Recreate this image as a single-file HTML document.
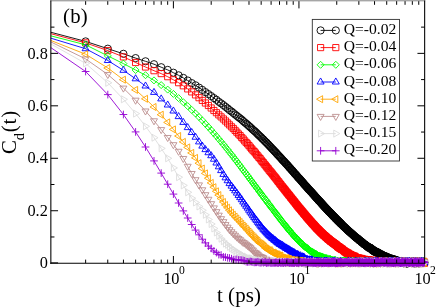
<!DOCTYPE html>
<html><head><meta charset="utf-8"><title>C_d(t)</title>
<style>
html,body{margin:0;padding:0;background:#fff;}
svg{display:block;will-change:transform;}
text{font-family:"Liberation Serif",serif;fill:#000;}
</style></head>
<body>
<svg width="436" height="308" viewBox="0 0 436 308">
<rect x="0" y="0" width="436" height="308" fill="#ffffff"/>
<defs>
<clipPath id="plotclip"><rect x="50.85" y="0" width="393.79999999999995" height="308"/></clipPath>
<marker id="m-black" markerUnits="userSpaceOnUse" markerWidth="12" markerHeight="12" viewBox="-6 -6 12 12" refX="0" refY="0" orient="0" overflow="visible"><path d="M-3.60,0a3.60,3.60 0 1,0 7.21,0a3.60,3.60 0 1,0 -7.21,0z" fill="none" stroke="#000000" stroke-width="0.9"/></marker>
<marker id="m-red" markerUnits="userSpaceOnUse" markerWidth="12" markerHeight="12" viewBox="-6 -6 12 12" refX="0" refY="0" orient="0" overflow="visible"><path d="M-3.08,-3.08h6.16v6.16h-6.16z" fill="none" stroke="#ff0000" stroke-width="0.9"/></marker>
<marker id="m-green" markerUnits="userSpaceOnUse" markerWidth="12" markerHeight="12" viewBox="-6 -6 12 12" refX="0" refY="0" orient="0" overflow="visible"><path d="M0,-3.50L3.50,0L0,3.50L-3.50,0z" fill="none" stroke="#00ff00" stroke-width="0.9"/></marker>
<marker id="m-blue" markerUnits="userSpaceOnUse" markerWidth="12" markerHeight="12" viewBox="-6 -6 12 12" refX="0" refY="0" orient="0" overflow="visible"><path d="M0,-4.04L3.50,2.02L-3.50,2.02z" fill="none" stroke="#0000ff" stroke-width="0.9"/></marker>
<marker id="m-orange" markerUnits="userSpaceOnUse" markerWidth="12" markerHeight="12" viewBox="-6 -6 12 12" refX="0" refY="0" orient="0" overflow="visible"><path d="M-4.04,0L2.02,3.50L2.02,-3.50z" fill="none" stroke="#ffa500" stroke-width="0.9"/></marker>
<marker id="m-brown" markerUnits="userSpaceOnUse" markerWidth="12" markerHeight="12" viewBox="-6 -6 12 12" refX="0" refY="0" orient="0" overflow="visible"><path d="M0,4.04L3.50,-2.02L-3.50,-2.02z" fill="none" stroke="#bc8f8f" stroke-width="0.9"/></marker>
<marker id="m-grey" markerUnits="userSpaceOnUse" markerWidth="12" markerHeight="12" viewBox="-6 -6 12 12" refX="0" refY="0" orient="0" overflow="visible"><path d="M4.04,0L-2.02,3.50L-2.02,-3.50z" fill="none" stroke="#dcdcdc" stroke-width="0.9"/></marker>
<marker id="m-violet" markerUnits="userSpaceOnUse" markerWidth="12" markerHeight="12" viewBox="-6 -6 12 12" refX="0" refY="0" orient="0" overflow="visible"><path d="M-3.85,0h7.70M0,-3.85v7.70" fill="none" stroke="#9400d3" stroke-width="0.9"/></marker>
</defs>
<g>
<polyline clip-path="url(#plotclip)" points="47.9,31.5 85.6,41.4 107.8,48.7 123.4,53.8 135.6,58.1 145.5,61.3 154.0,64.2 161.2,67.2 167.7,69.9 173.4,72.7 178.6,75.3 183.3,77.9 187.7,80.5 191.7,83.1 195.5,85.3 199.0,87.6 202.3,89.9 205.4,92.1 208.4,94.1 211.2,96.1 213.9,98.1 216.4,99.8 218.8,101.8 221.1,103.4 223.4,105.1 225.5,106.8 227.6,108.4 229.5,110.1 231.5,111.5 233.3,113.0 235.1,114.5 236.8,115.8 238.5,117.2 240.1,118.4 241.7,119.7 243.2,121.1 244.7,122.4 246.2,123.6 247.6,124.8 249.0,126.1 250.3,127.2 251.6,128.4 252.9,129.7 254.2,130.8 255.4,131.8 256.6,133.0 257.8,134.2 258.9,135.3 260.1,136.4 261.2,137.4 262.2,138.6 263.3,139.4 264.3,140.6 265.4,141.7 266.4,142.5 267.3,143.6 268.3,144.5 269.2,145.6 270.2,146.6 271.1,147.5 272.0,148.6 272.9,149.4 273.8,150.4 274.6,151.3 275.5,152.2 276.3,153.0 277.1,154.0 277.9,154.9 278.7,155.7 279.5,156.6 280.3,157.3 281.0,158.2 281.8,159.1 282.5,160.0 283.3,160.7 284.0,161.4 284.7,162.2 285.4,163.0 286.1,163.7 286.8,164.5 287.5,165.2 288.1,165.9 288.8,166.7 289.4,167.6 290.1,168.1 290.7,168.9 291.4,169.6 292.0,170.4 292.6,170.9 293.2,171.7 293.8,172.4 294.4,173.2 295.0,173.8 295.6,174.5 296.2,175.0 296.7,175.7 297.3,176.3 297.8,177.1 298.4,177.7 298.9,178.1 299.5,178.7 300.0,179.4 300.6,180.0 301.1,180.6 301.6,181.2 302.1,181.7 302.6,182.3 303.1,182.9 303.6,183.5 304.1,184.1 304.6,184.7 305.1,185.2 305.6,185.7 306.1,186.3 306.6,186.9 307.0,187.2 307.5,188.0 308.0,188.5 308.4,189.0 308.9,189.5 309.3,189.9 309.8,190.4 310.2,190.8 310.7,191.5 311.1,191.8 311.6,192.3 312.0,192.8 312.4,193.3 312.8,193.8 313.3,194.2 313.7,194.7 314.1,195.2 314.5,195.6 314.9,196.1 315.3,196.5 315.7,197.1 316.1,197.5 316.5,197.9 316.9,198.3 317.3,198.8 317.7,199.2 318.1,199.6 318.5,200.2 318.8,200.6 319.2,200.9 319.6,201.3 320.0,201.6 320.3,202.0 320.7,202.5 321.1,202.9 321.4,203.4 321.8,203.6 322.1,204.0 322.5,204.6 322.8,204.9 323.2,205.2 323.5,205.7 323.9,205.9 324.2,206.4 324.6,206.9 324.9,207.2 325.3,207.5 325.6,207.8 325.9,208.2 326.3,208.5 326.6,209.0 326.9,209.3 327.2,209.7 327.6,209.9 327.9,210.2 328.2,210.7 328.5,211.1 328.8,211.4 329.2,211.7 329.5,212.0 329.8,212.3 330.1,212.6 330.4,212.9 330.7,213.2 331.0,213.5 331.3,213.8 331.6,214.2 331.9,214.5 332.2,214.9 332.5,215.2 332.8,215.4 333.1,215.8 333.4,216.2 333.7,216.4 333.9,216.6 334.2,216.9 334.5,217.2 334.8,217.4 335.1,217.7 335.4,218.1 335.6,218.5 335.9,218.7 336.2,218.9 336.5,219.2 336.7,219.6 337.0,219.7 337.3,220.1 337.6,220.4 337.8,220.6 338.1,220.9 338.4,221.1 338.6,221.3 338.9,221.7 339.1,221.8 339.4,222.2 339.7,222.5 339.9,222.6 340.2,222.9 340.4,223.3 340.7,223.5 340.9,223.6 341.2,223.8 341.4,224.1 341.9,224.7 342.4,225.2 342.9,225.5 343.4,226.1 343.9,226.6 344.4,227.0 344.8,227.4 345.3,227.9 345.8,228.2 346.2,228.6 346.7,229.3 347.1,229.6 347.6,230.0 348.0,230.5 348.5,230.8 348.9,231.3 349.3,231.7 349.8,231.9 350.2,232.3 350.6,232.7 351.0,233.1 351.5,233.5 351.9,233.8 352.3,234.2 352.7,234.5 353.1,235.0 353.5,235.3 353.9,235.6 354.3,236.0 354.7,236.5 355.1,236.6 355.5,237.1 355.9,237.3 356.2,237.7 356.6,238.0 357.0,238.1 357.4,238.6 357.8,238.7 358.1,238.9 358.5,239.7 358.9,239.6 359.2,240.1 359.6,240.5 359.9,240.7 360.3,240.8 360.6,241.2 361.0,241.5 361.3,242.0 361.7,241.8 362.0,242.4 362.4,242.4 362.7,242.7 363.0,243.3 363.4,243.4 363.7,243.7 364.0,244.1 364.4,244.5 364.7,244.3 365.0,244.7 365.4,244.8 365.7,245.1 366.0,245.5 366.3,245.5 366.6,245.8 366.9,246.0 367.3,246.7 367.6,246.6 367.9,247.1 368.2,247.3 368.5,246.8 368.8,247.4 369.1,248.0 369.4,248.1 369.7,247.5 370.0,247.7 370.3,248.3 370.6,248.0 370.9,248.4 371.2,248.4 371.5,249.3 371.7,249.6 372.0,250.0 372.3,249.3 372.6,250.1 372.9,250.2 373.2,249.8 373.4,250.9 373.7,251.2 374.0,250.4 374.3,251.5 374.5,251.0 374.8,251.2 375.1,252.1 375.4,252.0 375.6,251.3 375.9,251.8 376.2,252.1 376.4,252.0 376.7,252.0 376.9,252.3 377.2,253.0 377.5,252.2 377.7,253.1 378.0,253.0 378.2,252.6 378.5,253.2 378.7,253.7 379.0,253.7 379.2,253.2 379.6,254.8 380.0,254.7 380.4,255.2 380.7,254.0 381.1,254.5 381.4,254.3 381.8,255.6 382.2,255.0 382.5,255.0 382.9,255.6 383.2,256.6 383.6,256.6 383.9,255.8 384.3,255.8 384.6,257.3 384.9,256.8 385.3,257.2 385.6,256.3 385.9,256.4 386.3,257.7 386.6,257.3 386.9,256.9 387.2,258.5 387.6,258.1 387.9,258.6 388.2,257.4 388.5,258.9 388.8,257.6 389.2,259.2 389.5,258.6 389.8,258.5 390.1,259.0 390.4,259.8 390.7,258.7 391.0,258.5 391.3,259.4 391.6,258.9 391.9,258.8 392.2,259.0 392.5,258.9 392.8,259.3 393.1,259.6 393.4,259.7 393.7,260.6 393.9,259.8 394.2,260.3 394.5,259.8 394.8,260.2 395.1,259.6 395.4,260.1 395.6,259.8 395.9,261.2 396.2,261.0 396.5,260.3 396.7,260.9 397.0,261.9 397.3,260.3 397.5,261.8 397.8,261.1 398.1,261.3 398.3,262.1 398.6,261.2 398.9,261.5 399.1,261.9 399.4,262.6 399.7,261.3 399.9,262.4 400.2,262.2 400.4,262.1 400.7,261.7 400.9,261.6 401.2,261.0 401.4,261.2 401.8,261.2 402.1,262.6 402.4,261.7 402.7,261.5 403.1,261.4 403.4,263.0 403.7,263.1 404.0,262.7 404.3,261.9 404.7,261.9 405.0,262.0 405.3,262.3 405.6,261.7 405.9,262.3 406.2,261.9 406.5,263.4 406.8,263.4 407.1,262.5 407.4,261.9 407.7,263.4 408.0,262.0 408.3,262.1 408.6,261.4 408.9,262.2 409.2,262.3 409.5,262.4 409.8,261.8 410.0,262.4 410.3,261.4 410.6,261.9 410.9,261.6 411.2,262.2 411.4,261.5 411.7,261.4 412.0,262.0 412.3,261.8 412.5,262.6 412.8,262.5 413.1,262.9 413.3,262.7 413.6,262.8 413.9,263.2 414.1,262.2 414.4,262.0 414.7,263.4 414.9,261.7 415.2,262.9 415.4,262.7 415.7,261.5 416.0,263.1 416.2,263.2 416.5,262.7 416.7,262.9 417.0,263.0 417.3,261.7 417.6,262.4 417.9,262.4 418.2,263.1 418.5,263.0 418.8,263.1 419.1,262.6 419.4,263.2 419.7,262.8 420.0,262.8 420.3,261.8 420.6,261.4 420.9,261.6 421.2,262.1 421.5,261.6 421.8,263.1 422.0,262.5 422.3,262.7 422.6,262.7 422.9,262.8 423.2,262.4 423.5,261.4 423.7,263.0 424.0,262.9 424.3,262.4 424.5,262.5" fill="none" stroke="#000000" stroke-width="0.9" stroke-linejoin="round"/>
<polyline points="85.6,41.4 107.8,48.7 123.4,53.8 135.6,58.1 145.5,61.3 154.0,64.2 161.2,67.2 167.7,69.9 173.4,72.7 178.6,75.3 183.3,77.9 187.7,80.5 191.7,83.1 195.5,85.3 199.0,87.6 202.3,89.9 205.4,92.1 208.4,94.1 211.2,96.1 213.9,98.1 216.4,99.8 218.8,101.8 221.1,103.4 223.4,105.1 225.5,106.8 227.6,108.4 229.5,110.1 231.5,111.5 233.3,113.0 235.1,114.5 236.8,115.8 238.5,117.2 240.1,118.4 241.7,119.7 243.2,121.1 244.7,122.4 246.2,123.6 247.6,124.8 249.0,126.1 250.3,127.2 251.6,128.4 252.9,129.7 254.2,130.8 255.4,131.8 256.6,133.0 257.8,134.2 258.9,135.3 260.1,136.4 261.2,137.4 262.2,138.6 263.3,139.4 264.3,140.6 265.4,141.7 266.4,142.5 267.3,143.6 268.3,144.5 269.2,145.6 270.2,146.6 271.1,147.5 272.0,148.6 272.9,149.4 273.8,150.4 274.6,151.3 275.5,152.2 276.3,153.0 277.1,154.0 277.9,154.9 278.7,155.7 279.5,156.6 280.3,157.3 281.0,158.2 281.8,159.1 282.5,160.0 283.3,160.7 284.0,161.4 284.7,162.2 285.4,163.0 286.1,163.7 286.8,164.5 287.5,165.2 288.1,165.9 288.8,166.7 289.4,167.6 290.1,168.1 290.7,168.9 291.4,169.6 292.0,170.4 292.6,170.9 293.2,171.7 293.8,172.4 294.4,173.2 295.0,173.8 295.6,174.5 296.2,175.0 296.7,175.7 297.3,176.3 297.8,177.1 298.4,177.7 298.9,178.1 299.5,178.7 300.0,179.4 300.6,180.0 301.1,180.6 301.6,181.2 302.1,181.7 302.6,182.3 303.1,182.9 303.6,183.5 304.1,184.1 304.6,184.7 305.1,185.2 305.6,185.7 306.1,186.3 306.6,186.9 307.0,187.2 307.5,188.0 308.0,188.5 308.4,189.0 308.9,189.5 309.3,189.9 309.8,190.4 310.2,190.8 310.7,191.5 311.1,191.8 311.6,192.3 312.0,192.8 312.4,193.3 312.8,193.8 313.3,194.2 313.7,194.7 314.1,195.2 314.5,195.6 314.9,196.1 315.3,196.5 315.7,197.1 316.1,197.5 316.5,197.9 316.9,198.3 317.3,198.8 317.7,199.2 318.1,199.6 318.5,200.2 318.8,200.6 319.2,200.9 319.6,201.3 320.0,201.6 320.3,202.0 320.7,202.5 321.1,202.9 321.4,203.4 321.8,203.6 322.1,204.0 322.5,204.6 322.8,204.9 323.2,205.2 323.5,205.7 323.9,205.9 324.2,206.4 324.6,206.9 324.9,207.2 325.3,207.5 325.6,207.8 325.9,208.2 326.3,208.5 326.6,209.0 326.9,209.3 327.2,209.7 327.6,209.9 327.9,210.2 328.2,210.7 328.5,211.1 328.8,211.4 329.2,211.7 329.5,212.0 329.8,212.3 330.1,212.6 330.4,212.9 330.7,213.2 331.0,213.5 331.3,213.8 331.6,214.2 331.9,214.5 332.2,214.9 332.5,215.2 332.8,215.4 333.1,215.8 333.4,216.2 333.7,216.4 333.9,216.6 334.2,216.9 334.5,217.2 334.8,217.4 335.1,217.7 335.4,218.1 335.6,218.5 335.9,218.7 336.2,218.9 336.5,219.2 336.7,219.6 337.0,219.7 337.3,220.1 337.6,220.4 337.8,220.6 338.1,220.9 338.4,221.1 338.6,221.3 338.9,221.7 339.1,221.8 339.4,222.2 339.7,222.5 339.9,222.6 340.2,222.9 340.4,223.3 340.7,223.5 340.9,223.6 341.2,223.8 341.4,224.1 341.9,224.7 342.4,225.2 342.9,225.5 343.4,226.1 343.9,226.6 344.4,227.0 344.8,227.4 345.3,227.9 345.8,228.2 346.2,228.6 346.7,229.3 347.1,229.6 347.6,230.0 348.0,230.5 348.5,230.8 348.9,231.3 349.3,231.7 349.8,231.9 350.2,232.3 350.6,232.7 351.0,233.1 351.5,233.5 351.9,233.8 352.3,234.2 352.7,234.5 353.1,235.0 353.5,235.3 353.9,235.6 354.3,236.0 354.7,236.5 355.1,236.6 355.5,237.1 355.9,237.3 356.2,237.7 356.6,238.0 357.0,238.1 357.4,238.6 357.8,238.7 358.1,238.9 358.5,239.7 358.9,239.6 359.2,240.1 359.6,240.5 359.9,240.7 360.3,240.8 360.6,241.2 361.0,241.5 361.3,242.0 361.7,241.8 362.0,242.4 362.4,242.4 362.7,242.7 363.0,243.3 363.4,243.4 363.7,243.7 364.0,244.1 364.4,244.5 364.7,244.3 365.0,244.7 365.4,244.8 365.7,245.1 366.0,245.5 366.3,245.5 366.6,245.8 366.9,246.0 367.3,246.7 367.6,246.6 367.9,247.1 368.2,247.3 368.5,246.8 368.8,247.4 369.1,248.0 369.4,248.1 369.7,247.5 370.0,247.7 370.3,248.3 370.6,248.0 370.9,248.4 371.2,248.4 371.5,249.3 371.7,249.6 372.0,250.0 372.3,249.3 372.6,250.1 372.9,250.2 373.2,249.8 373.4,250.9 373.7,251.2 374.0,250.4 374.3,251.5 374.5,251.0 374.8,251.2 375.1,252.1 375.4,252.0 375.6,251.3 375.9,251.8 376.2,252.1 376.4,252.0 376.7,252.0 376.9,252.3 377.2,253.0 377.5,252.2 377.7,253.1 378.0,253.0 378.2,252.6 378.5,253.2 378.7,253.7 379.0,253.7 379.2,253.2 379.6,254.8 380.0,254.7 380.4,255.2 380.7,254.0 381.1,254.5 381.4,254.3 381.8,255.6 382.2,255.0 382.5,255.0 382.9,255.6 383.2,256.6 383.6,256.6 383.9,255.8 384.3,255.8 384.6,257.3 384.9,256.8 385.3,257.2 385.6,256.3 385.9,256.4 386.3,257.7 386.6,257.3 386.9,256.9 387.2,258.5 387.6,258.1 387.9,258.6 388.2,257.4 388.5,258.9 388.8,257.6 389.2,259.2 389.5,258.6 389.8,258.5 390.1,259.0 390.4,259.8 390.7,258.7 391.0,258.5 391.3,259.4 391.6,258.9 391.9,258.8 392.2,259.0 392.5,258.9 392.8,259.3 393.1,259.6 393.4,259.7 393.7,260.6 393.9,259.8 394.2,260.3 394.5,259.8 394.8,260.2 395.1,259.6 395.4,260.1 395.6,259.8 395.9,261.2 396.2,261.0 396.5,260.3 396.7,260.9 397.0,261.9 397.3,260.3 397.5,261.8 397.8,261.1 398.1,261.3 398.3,262.1 398.6,261.2 398.9,261.5 399.1,261.9 399.4,262.6 399.7,261.3 399.9,262.4 400.2,262.2 400.4,262.1 400.7,261.7 400.9,261.6 401.2,261.0 401.4,261.2 401.8,261.2 402.1,262.6 402.4,261.7 402.7,261.5 403.1,261.4 403.4,263.0 403.7,263.1 404.0,262.7 404.3,261.9 404.7,261.9 405.0,262.0 405.3,262.3 405.6,261.7 405.9,262.3 406.2,261.9 406.5,263.4 406.8,263.4 407.1,262.5 407.4,261.9 407.7,263.4 408.0,262.0 408.3,262.1 408.6,261.4 408.9,262.2 409.2,262.3 409.5,262.4 409.8,261.8 410.0,262.4 410.3,261.4 410.6,261.9 410.9,261.6 411.2,262.2 411.4,261.5 411.7,261.4 412.0,262.0 412.3,261.8 412.5,262.6 412.8,262.5 413.1,262.9 413.3,262.7 413.6,262.8 413.9,263.2 414.1,262.2 414.4,262.0 414.7,263.4 414.9,261.7 415.2,262.9 415.4,262.7 415.7,261.5 416.0,263.1 416.2,263.2 416.5,262.7 416.7,262.9 417.0,263.0 417.3,261.7 417.6,262.4 417.9,262.4 418.2,263.1 418.5,263.0 418.8,263.1 419.1,262.6 419.4,263.2 419.7,262.8 420.0,262.8 420.3,261.8 420.6,261.4 420.9,261.6 421.2,262.1 421.5,261.6 421.8,263.1 422.0,262.5 422.3,262.7 422.6,262.7 422.9,262.8 423.2,262.4 423.5,261.4 423.7,263.0 424.0,262.9 424.3,262.4 424.5,262.5" fill="none" stroke="none" marker-start="url(#m-black)" marker-mid="url(#m-black)" marker-end="url(#m-black)"/>
</g>
<g>
<polyline clip-path="url(#plotclip)" points="47.9,32.9 85.6,42.9 107.8,50.6 123.4,56.9 135.6,62.5 145.5,67.0 154.0,70.7 161.2,73.6 167.7,76.7 173.4,79.8 178.6,82.7 183.3,85.8 187.7,88.9 191.7,91.9 195.5,94.9 199.0,97.7 202.3,100.4 205.4,103.0 208.4,105.5 211.2,108.0 213.9,110.5 216.4,112.7 218.8,114.9 221.1,116.9 223.4,119.0 225.5,121.0 227.6,123.0 229.5,124.9 231.5,126.8 233.3,128.5 235.1,130.4 236.8,132.2 238.5,134.0 240.1,135.6 241.7,137.5 243.2,139.0 244.7,140.9 246.2,142.5 247.6,143.9 249.0,145.6 250.3,147.2 251.6,148.8 252.9,150.2 254.2,151.6 255.4,153.0 256.6,154.7 257.8,155.9 258.9,157.4 260.1,158.6 261.2,160.1 262.2,161.5 263.3,162.6 264.3,164.1 265.4,165.2 266.4,166.6 267.3,167.8 268.3,168.8 269.2,170.2 270.2,171.3 271.1,172.3 272.0,173.4 272.9,174.7 273.8,175.8 274.6,176.8 275.5,177.8 276.3,178.9 277.1,180.0 277.9,181.1 278.7,181.9 279.5,183.1 280.3,184.1 281.0,184.9 281.8,186.1 282.5,186.9 283.3,187.9 284.0,188.7 284.7,189.6 285.4,190.5 286.1,191.5 286.8,192.3 287.5,193.1 288.1,194.0 288.8,194.8 289.4,195.5 290.1,196.3 290.7,197.3 291.4,198.0 292.0,198.9 292.6,199.5 293.2,200.3 293.8,201.1 294.4,201.8 295.0,202.5 295.6,203.4 296.2,204.1 296.7,204.8 297.3,205.5 297.8,206.2 298.4,206.9 298.9,207.5 299.5,208.2 300.0,208.7 300.6,209.5 301.1,210.1 301.6,210.8 302.1,211.4 302.6,211.9 303.1,212.5 303.6,213.3 304.1,213.7 304.6,214.4 305.1,214.9 305.6,215.5 306.1,216.2 306.6,216.8 307.0,217.2 307.5,217.8 308.0,218.3 308.4,218.9 308.9,219.4 309.3,219.8 309.8,220.4 310.2,220.9 310.7,221.5 311.1,221.9 311.6,222.4 312.0,223.0 312.4,223.5 312.8,223.9 313.3,224.3 313.7,224.7 314.1,225.2 314.5,225.7 314.9,226.1 315.3,226.5 315.7,227.0 316.1,227.5 316.5,228.0 316.9,228.3 317.3,228.7 317.7,229.1 318.1,229.5 318.5,229.9 318.8,230.2 319.2,230.5 319.6,231.0 320.0,231.5 320.3,231.7 320.7,232.1 321.1,232.5 321.4,232.9 321.8,233.1 322.1,233.4 322.5,233.8 322.8,234.1 323.2,234.5 323.5,234.9 323.9,235.2 324.2,235.5 324.6,235.6 324.9,235.9 325.3,236.4 325.6,236.8 325.9,236.9 326.3,237.3 326.6,237.3 326.9,237.7 327.2,238.2 327.6,238.5 327.9,238.8 328.2,239.1 328.5,239.0 328.8,239.2 329.2,239.5 329.5,239.9 329.8,240.3 330.1,240.7 330.4,240.8 330.7,241.0 331.0,241.3 331.3,241.4 331.6,241.7 331.9,241.5 332.2,242.3 332.5,242.1 332.8,242.9 333.1,242.9 333.4,242.9 333.7,242.9 333.9,243.2 334.2,243.8 334.5,244.0 334.8,243.8 335.1,243.9 335.4,244.5 335.6,244.8 335.9,244.8 336.2,244.9 336.5,245.5 336.7,245.1 337.0,245.6 337.3,245.9 337.6,246.6 337.8,246.5 338.1,247.0 338.4,246.7 338.6,246.7 338.9,246.9 339.1,247.8 339.4,247.8 339.7,247.5 339.9,247.4 340.2,248.1 340.4,248.5 340.7,248.4 340.9,248.4 341.2,249.0 341.4,249.5 341.9,249.0 342.4,249.1 342.9,249.9 343.4,250.3 343.9,251.0 344.4,250.7 344.8,251.8 345.3,252.0 345.8,252.0 346.2,251.9 346.7,253.2 347.1,252.6 347.6,253.6 348.0,253.0 348.5,253.3 348.9,254.4 349.3,253.9 349.8,255.2 350.2,254.7 350.6,254.5 351.0,254.8 351.5,255.3 351.9,255.9 352.3,256.6 352.7,255.5 353.1,256.1 353.5,256.0 353.9,257.5 354.3,256.3 354.7,256.3 355.1,256.5 355.5,257.2 355.9,258.2 356.2,258.4 356.6,258.3 357.0,258.9 357.4,258.9 357.8,258.0 358.1,257.9 358.5,259.3 358.9,259.1 359.2,257.9 359.6,259.2 359.9,258.8 360.3,258.9 360.6,258.9 361.0,258.7 361.3,258.4 361.7,259.0 362.0,259.3 362.4,260.5 362.7,259.0 363.0,260.6 363.4,259.3 363.7,259.6 364.0,260.6 364.4,260.6 364.7,260.0 365.0,259.3 365.4,260.1 365.7,260.0 366.0,261.1 366.3,259.8 366.6,260.1 366.9,261.2 367.3,259.6 367.6,260.4 367.9,261.2 368.2,261.1 368.5,259.8 368.8,259.8 369.1,259.9 369.4,261.6 369.7,260.3 370.0,261.3 370.3,261.7 370.6,260.6 370.9,260.5 371.2,261.9 371.5,261.3 371.7,260.6 372.0,261.5 372.3,260.8 372.6,260.7 372.9,260.2 373.2,261.7 373.4,262.1 373.7,261.5 374.0,262.2 374.3,260.4 374.5,260.8 374.8,261.3 375.1,262.3 375.4,262.3 375.6,261.2 375.9,261.0 376.2,261.3 376.4,261.5 376.7,262.4 376.9,260.9 377.2,262.2 377.5,262.1 377.7,262.2 378.0,262.2 378.2,261.8 378.5,261.3 378.7,261.3 379.0,261.4 379.2,262.3 379.6,260.9 380.0,261.1 380.4,262.3 380.7,261.3 381.1,260.9 381.4,260.9 381.8,261.9 382.2,261.5 382.5,262.8 382.9,262.7 383.2,262.9 383.6,261.4 383.9,261.1 384.3,261.1 384.6,261.9 384.9,262.4 385.3,261.9 385.6,261.4 385.9,261.8 386.3,262.2 386.6,262.4 386.9,262.5 387.2,262.7 387.6,262.4 387.9,261.3 388.2,262.7 388.5,261.6 388.8,262.2 389.2,261.8 389.5,262.5 389.8,261.4 390.1,261.6 390.4,261.6 390.7,261.4 391.0,262.9 391.3,262.2 391.6,261.7 391.9,261.9 392.2,263.1 392.5,262.1 392.8,261.5 393.1,262.7 393.4,262.4 393.7,263.1 393.9,261.3 394.2,262.0 394.5,262.8 394.8,262.8 395.1,263.0 395.4,261.2 395.6,261.7 395.9,261.3 396.2,261.5 396.5,263.1 396.7,262.3 397.0,263.0 397.3,261.8 397.5,262.9 397.8,262.0 398.1,261.6 398.3,262.7 398.6,263.0 398.9,261.3 399.1,262.3 399.4,262.3 399.7,261.5 399.9,261.8 400.2,261.4 400.4,261.5 400.7,261.6 400.9,262.3 401.2,262.4 401.4,261.5 401.8,261.1 402.1,261.7 402.4,262.5 402.7,261.5 403.1,261.7 403.4,261.5 403.7,262.7 404.0,262.2 404.3,261.2 404.7,261.3 405.0,261.9 405.3,262.2 405.6,262.4 405.9,261.3 406.2,261.4 406.5,262.5 406.8,261.9 407.1,261.7 407.4,261.7 407.7,263.0 408.0,261.7 408.3,262.2 408.6,261.8 408.9,261.9 409.2,262.8 409.5,263.1 409.8,261.8 410.0,261.5 410.3,262.6 410.6,261.5 410.9,261.1 411.2,262.9 411.4,261.9 411.7,262.8 412.0,261.9 412.3,262.9 412.5,262.0 412.8,261.4 413.1,261.1 413.3,262.2 413.6,262.4 413.9,262.9 414.1,261.3 414.4,262.4 414.7,261.8 414.9,262.1 415.2,261.4 415.4,261.7 415.7,262.1 416.0,263.0 416.2,261.3 416.5,262.1 416.7,262.7 417.0,263.1 417.3,261.5 417.6,261.4 417.9,263.0 418.2,263.1 418.5,262.1 418.8,261.2 419.1,263.0 419.4,261.9 419.7,263.0 420.0,262.4 420.3,262.9 420.6,261.5 420.9,262.8 421.2,261.6 421.5,262.0 421.8,263.0 422.0,262.9 422.3,261.6 422.6,261.7 422.9,262.1 423.2,262.3 423.5,262.1 423.7,261.5 424.0,261.8 424.3,262.8 424.5,263.2" fill="none" stroke="#ff0000" stroke-width="0.9" stroke-linejoin="round"/>
<polyline points="85.6,42.9 107.8,50.6 123.4,56.9 135.6,62.5 145.5,67.0 154.0,70.7 161.2,73.6 167.7,76.7 173.4,79.8 178.6,82.7 183.3,85.8 187.7,88.9 191.7,91.9 195.5,94.9 199.0,97.7 202.3,100.4 205.4,103.0 208.4,105.5 211.2,108.0 213.9,110.5 216.4,112.7 218.8,114.9 221.1,116.9 223.4,119.0 225.5,121.0 227.6,123.0 229.5,124.9 231.5,126.8 233.3,128.5 235.1,130.4 236.8,132.2 238.5,134.0 240.1,135.6 241.7,137.5 243.2,139.0 244.7,140.9 246.2,142.5 247.6,143.9 249.0,145.6 250.3,147.2 251.6,148.8 252.9,150.2 254.2,151.6 255.4,153.0 256.6,154.7 257.8,155.9 258.9,157.4 260.1,158.6 261.2,160.1 262.2,161.5 263.3,162.6 264.3,164.1 265.4,165.2 266.4,166.6 267.3,167.8 268.3,168.8 269.2,170.2 270.2,171.3 271.1,172.3 272.0,173.4 272.9,174.7 273.8,175.8 274.6,176.8 275.5,177.8 276.3,178.9 277.1,180.0 277.9,181.1 278.7,181.9 279.5,183.1 280.3,184.1 281.0,184.9 281.8,186.1 282.5,186.9 283.3,187.9 284.0,188.7 284.7,189.6 285.4,190.5 286.1,191.5 286.8,192.3 287.5,193.1 288.1,194.0 288.8,194.8 289.4,195.5 290.1,196.3 290.7,197.3 291.4,198.0 292.0,198.9 292.6,199.5 293.2,200.3 293.8,201.1 294.4,201.8 295.0,202.5 295.6,203.4 296.2,204.1 296.7,204.8 297.3,205.5 297.8,206.2 298.4,206.9 298.9,207.5 299.5,208.2 300.0,208.7 300.6,209.5 301.1,210.1 301.6,210.8 302.1,211.4 302.6,211.9 303.1,212.5 303.6,213.3 304.1,213.7 304.6,214.4 305.1,214.9 305.6,215.5 306.1,216.2 306.6,216.8 307.0,217.2 307.5,217.8 308.0,218.3 308.4,218.9 308.9,219.4 309.3,219.8 309.8,220.4 310.2,220.9 310.7,221.5 311.1,221.9 311.6,222.4 312.0,223.0 312.4,223.5 312.8,223.9 313.3,224.3 313.7,224.7 314.1,225.2 314.5,225.7 314.9,226.1 315.3,226.5 315.7,227.0 316.1,227.5 316.5,228.0 316.9,228.3 317.3,228.7 317.7,229.1 318.1,229.5 318.5,229.9 318.8,230.2 319.2,230.5 319.6,231.0 320.0,231.5 320.3,231.7 320.7,232.1 321.1,232.5 321.4,232.9 321.8,233.1 322.1,233.4 322.5,233.8 322.8,234.1 323.2,234.5 323.5,234.9 323.9,235.2 324.2,235.5 324.6,235.6 324.9,235.9 325.3,236.4 325.6,236.8 325.9,236.9 326.3,237.3 326.6,237.3 326.9,237.7 327.2,238.2 327.6,238.5 327.9,238.8 328.2,239.1 328.5,239.0 328.8,239.2 329.2,239.5 329.5,239.9 329.8,240.3 330.1,240.7 330.4,240.8 330.7,241.0 331.0,241.3 331.3,241.4 331.6,241.7 331.9,241.5 332.2,242.3 332.5,242.1 332.8,242.9 333.1,242.9 333.4,242.9 333.7,242.9 333.9,243.2 334.2,243.8 334.5,244.0 334.8,243.8 335.1,243.9 335.4,244.5 335.6,244.8 335.9,244.8 336.2,244.9 336.5,245.5 336.7,245.1 337.0,245.6 337.3,245.9 337.6,246.6 337.8,246.5 338.1,247.0 338.4,246.7 338.6,246.7 338.9,246.9 339.1,247.8 339.4,247.8 339.7,247.5 339.9,247.4 340.2,248.1 340.4,248.5 340.7,248.4 340.9,248.4 341.2,249.0 341.4,249.5 341.9,249.0 342.4,249.1 342.9,249.9 343.4,250.3 343.9,251.0 344.4,250.7 344.8,251.8 345.3,252.0 345.8,252.0 346.2,251.9 346.7,253.2 347.1,252.6 347.6,253.6 348.0,253.0 348.5,253.3 348.9,254.4 349.3,253.9 349.8,255.2 350.2,254.7 350.6,254.5 351.0,254.8 351.5,255.3 351.9,255.9 352.3,256.6 352.7,255.5 353.1,256.1 353.5,256.0 353.9,257.5 354.3,256.3 354.7,256.3 355.1,256.5 355.5,257.2 355.9,258.2 356.2,258.4 356.6,258.3 357.0,258.9 357.4,258.9 357.8,258.0 358.1,257.9 358.5,259.3 358.9,259.1 359.2,257.9 359.6,259.2 359.9,258.8 360.3,258.9 360.6,258.9 361.0,258.7 361.3,258.4 361.7,259.0 362.0,259.3 362.4,260.5 362.7,259.0 363.0,260.6 363.4,259.3 363.7,259.6 364.0,260.6 364.4,260.6 364.7,260.0 365.0,259.3 365.4,260.1 365.7,260.0 366.0,261.1 366.3,259.8 366.6,260.1 366.9,261.2 367.3,259.6 367.6,260.4 367.9,261.2 368.2,261.1 368.5,259.8 368.8,259.8 369.1,259.9 369.4,261.6 369.7,260.3 370.0,261.3 370.3,261.7 370.6,260.6 370.9,260.5 371.2,261.9 371.5,261.3 371.7,260.6 372.0,261.5 372.3,260.8 372.6,260.7 372.9,260.2 373.2,261.7 373.4,262.1 373.7,261.5 374.0,262.2 374.3,260.4 374.5,260.8 374.8,261.3 375.1,262.3 375.4,262.3 375.6,261.2 375.9,261.0 376.2,261.3 376.4,261.5 376.7,262.4 376.9,260.9 377.2,262.2 377.5,262.1 377.7,262.2 378.0,262.2 378.2,261.8 378.5,261.3 378.7,261.3 379.0,261.4 379.2,262.3 379.6,260.9 380.0,261.1 380.4,262.3 380.7,261.3 381.1,260.9 381.4,260.9 381.8,261.9 382.2,261.5 382.5,262.8 382.9,262.7 383.2,262.9 383.6,261.4 383.9,261.1 384.3,261.1 384.6,261.9 384.9,262.4 385.3,261.9 385.6,261.4 385.9,261.8 386.3,262.2 386.6,262.4 386.9,262.5 387.2,262.7 387.6,262.4 387.9,261.3 388.2,262.7 388.5,261.6 388.8,262.2 389.2,261.8 389.5,262.5 389.8,261.4 390.1,261.6 390.4,261.6 390.7,261.4 391.0,262.9 391.3,262.2 391.6,261.7 391.9,261.9 392.2,263.1 392.5,262.1 392.8,261.5 393.1,262.7 393.4,262.4 393.7,263.1 393.9,261.3 394.2,262.0 394.5,262.8 394.8,262.8 395.1,263.0 395.4,261.2 395.6,261.7 395.9,261.3 396.2,261.5 396.5,263.1 396.7,262.3 397.0,263.0 397.3,261.8 397.5,262.9 397.8,262.0 398.1,261.6 398.3,262.7 398.6,263.0 398.9,261.3 399.1,262.3 399.4,262.3 399.7,261.5 399.9,261.8 400.2,261.4 400.4,261.5 400.7,261.6 400.9,262.3 401.2,262.4 401.4,261.5 401.8,261.1 402.1,261.7 402.4,262.5 402.7,261.5 403.1,261.7 403.4,261.5 403.7,262.7 404.0,262.2 404.3,261.2 404.7,261.3 405.0,261.9 405.3,262.2 405.6,262.4 405.9,261.3 406.2,261.4 406.5,262.5 406.8,261.9 407.1,261.7 407.4,261.7 407.7,263.0 408.0,261.7 408.3,262.2 408.6,261.8 408.9,261.9 409.2,262.8 409.5,263.1 409.8,261.8 410.0,261.5 410.3,262.6 410.6,261.5 410.9,261.1 411.2,262.9 411.4,261.9 411.7,262.8 412.0,261.9 412.3,262.9 412.5,262.0 412.8,261.4 413.1,261.1 413.3,262.2 413.6,262.4 413.9,262.9 414.1,261.3 414.4,262.4 414.7,261.8 414.9,262.1 415.2,261.4 415.4,261.7 415.7,262.1 416.0,263.0 416.2,261.3 416.5,262.1 416.7,262.7 417.0,263.1 417.3,261.5 417.6,261.4 417.9,263.0 418.2,263.1 418.5,262.1 418.8,261.2 419.1,263.0 419.4,261.9 419.7,263.0 420.0,262.4 420.3,262.9 420.6,261.5 420.9,262.8 421.2,261.6 421.5,262.0 421.8,263.0 422.0,262.9 422.3,261.6 422.6,261.7 422.9,262.1 423.2,262.3 423.5,262.1 423.7,261.5 424.0,261.8 424.3,262.8 424.5,263.2" fill="none" stroke="none" marker-start="url(#m-red)" marker-mid="url(#m-red)" marker-end="url(#m-red)"/>
</g>
<g>
<polyline clip-path="url(#plotclip)" points="47.9,35.1 85.6,44.8 107.8,55.9 123.4,63.6 135.6,70.0 145.5,75.2 154.0,80.4 161.2,85.1 167.7,89.6 173.4,93.9 178.6,98.1 183.3,102.2 187.7,106.1 191.7,109.9 195.5,113.5 199.0,117.0 202.3,120.4 205.4,123.8 208.4,127.0 211.2,130.1 213.9,133.3 216.4,136.2 218.8,139.0 221.1,141.7 223.4,144.5 225.5,147.1 227.6,149.6 229.5,152.2 231.5,154.6 233.3,157.0 235.1,159.3 236.8,161.4 238.5,163.8 240.1,165.8 241.7,168.0 243.2,170.0 244.7,171.9 246.2,173.8 247.6,175.7 249.0,177.6 250.3,179.5 251.6,181.1 252.9,182.9 254.2,184.7 255.4,186.2 256.6,187.9 257.8,189.3 258.9,191.0 260.1,192.4 261.2,194.0 262.2,195.4 263.3,196.7 264.3,198.2 265.4,199.6 266.4,200.7 267.3,202.1 268.3,203.5 269.2,204.6 270.2,206.0 271.1,207.1 272.0,208.4 272.9,209.4 273.8,210.6 274.6,211.9 275.5,212.8 276.3,213.9 277.1,215.1 277.9,216.1 278.7,217.0 279.5,218.1 280.3,219.1 281.0,220.2 281.8,221.1 282.5,222.1 283.3,222.9 284.0,223.9 284.7,224.7 285.4,225.6 286.1,226.5 286.8,227.3 287.5,228.2 288.1,229.0 288.8,229.8 289.4,230.6 290.1,231.2 290.7,232.1 291.4,232.8 292.0,233.5 292.6,234.3 293.2,234.8 293.8,235.7 294.4,236.2 295.0,236.8 295.6,237.6 296.2,238.1 296.7,238.6 297.3,239.4 297.8,239.6 298.4,240.7 298.9,240.9 299.5,241.7 300.0,242.5 300.6,242.7 301.1,243.3 301.6,243.5 302.1,243.7 302.6,244.2 303.1,244.8 303.6,245.7 304.1,245.9 304.6,246.4 305.1,247.3 305.6,246.9 306.1,247.4 306.6,248.2 307.0,247.9 307.5,248.3 308.0,249.0 308.4,249.1 308.9,249.7 309.3,249.9 309.8,250.7 310.2,251.0 310.7,250.8 311.1,251.7 311.6,251.8 312.0,251.6 312.4,253.0 312.8,252.3 313.3,252.4 313.7,252.6 314.1,253.7 314.5,254.3 314.9,254.4 315.3,254.0 315.7,254.0 316.1,253.9 316.5,255.1 316.9,255.1 317.3,255.0 317.7,255.7 318.1,255.6 318.5,256.5 318.8,256.4 319.2,255.8 319.6,257.0 320.0,255.8 320.3,256.8 320.7,256.7 321.1,256.6 321.4,256.4 321.8,257.8 322.1,256.6 322.5,257.7 322.8,258.5 323.2,257.2 323.5,257.4 323.9,258.3 324.2,258.2 324.6,258.6 324.9,259.0 325.3,258.0 325.6,258.3 325.9,258.4 326.3,258.0 326.6,259.7 326.9,259.6 327.2,259.6 327.6,258.3 327.9,260.0 328.2,259.9 328.5,259.4 328.8,260.0 329.2,259.6 329.5,259.2 329.8,259.0 330.1,259.4 330.4,259.1 330.7,259.7 331.0,260.5 331.3,260.5 331.6,260.8 331.9,260.7 332.2,259.8 332.5,260.5 332.8,260.3 333.1,261.0 333.4,260.6 333.7,260.1 333.9,260.9 334.2,261.6 334.5,260.1 334.8,261.5 335.1,259.8 335.4,260.3 335.6,260.3 335.9,261.4 336.2,261.8 336.5,261.4 336.7,260.7 337.0,261.8 337.3,260.7 337.6,260.6 337.8,261.9 338.1,261.4 338.4,261.6 338.6,261.5 338.9,262.2 339.1,261.2 339.4,262.0 339.7,261.7 339.9,262.0 340.2,261.2 340.4,261.8 340.7,261.5 340.9,261.0 341.2,260.9 341.4,261.7 341.9,260.6 342.4,262.3 342.9,260.8 343.4,260.6 343.9,260.8 344.4,262.5 344.8,261.3 345.3,260.9 345.8,260.7 346.2,260.8 346.7,262.1 347.1,262.0 347.6,262.2 348.0,262.3 348.5,260.9 348.9,262.0 349.3,261.5 349.8,262.5 350.2,262.5 350.6,262.7 351.0,261.0 351.5,262.6 351.9,262.7 352.3,262.8 352.7,261.1 353.1,261.3 353.5,261.1 353.9,261.0 354.3,262.7 354.7,262.6 355.1,262.3 355.5,262.7 355.9,262.3 356.2,261.6 356.6,261.2 357.0,261.2 357.4,262.6 357.8,261.4 358.1,261.7 358.5,261.9 358.9,261.1 359.2,261.6 359.6,261.6 359.9,262.5 360.3,261.8 360.6,261.7 361.0,263.1 361.3,262.1 361.7,262.8 362.0,262.4 362.4,261.2 362.7,262.0 363.0,262.0 363.4,262.7 363.7,261.8 364.0,262.6 364.4,262.2 364.7,261.6 365.0,262.9 365.4,261.3 365.7,262.8 366.0,261.5 366.3,261.2 366.6,261.6 366.9,262.7 367.3,263.2 367.6,261.2 367.9,262.2 368.2,262.2 368.5,262.8 368.8,261.6 369.1,262.2 369.4,261.9 369.7,262.9 370.0,261.7 370.3,263.1 370.6,261.8 370.9,261.6 371.2,262.6 371.5,262.2 371.7,261.4 372.0,262.5 372.3,261.4 372.6,262.8 372.9,262.6 373.2,262.8 373.4,262.5 373.7,261.9 374.0,262.0 374.3,262.0 374.5,263.1 374.8,261.4 375.1,263.1 375.4,261.3 375.6,261.7 375.9,261.8 376.2,263.1 376.4,262.3 376.7,262.0 376.9,263.1 377.2,261.7 377.5,262.2 377.7,262.3 378.0,262.8 378.2,262.8 378.5,262.6 378.7,262.0 379.0,261.9 379.2,261.6 379.6,263.0 380.0,262.6 380.4,262.8 380.7,261.6 381.1,262.1 381.4,262.8 381.8,262.4 382.2,261.5 382.5,262.2 382.9,263.1 383.2,261.7 383.6,261.6 383.9,261.9 384.3,262.7 384.6,263.0 384.9,261.6 385.3,261.6 385.6,261.8 385.9,261.9 386.3,262.3 386.6,261.6 386.9,261.9 387.2,261.6 387.6,263.3 387.9,262.8 388.2,261.5 388.5,263.2 388.8,261.5 389.2,262.0 389.5,263.3 389.8,262.9 390.1,262.8 390.4,262.1 390.7,261.7 391.0,262.6 391.3,261.5 391.6,261.7 391.9,262.0 392.2,261.3 392.5,262.1 392.8,262.9 393.1,262.7 393.4,262.3 393.7,262.6 393.9,262.2 394.2,261.5 394.5,262.5 394.8,262.1 395.1,262.8 395.4,263.1 395.6,262.1 395.9,262.4 396.2,262.8 396.5,262.1 396.7,261.7 397.0,262.7 397.3,263.1 397.5,262.8 397.8,262.7 398.1,263.0 398.3,262.6 398.6,262.6 398.9,262.2 399.1,261.9 399.4,262.5 399.7,261.5 399.9,262.1 400.2,262.9 400.4,262.7 400.7,262.5 400.9,261.8 401.2,262.1 401.4,262.2 401.8,262.5 402.1,262.1 402.4,262.6 402.7,263.2 403.1,261.6 403.4,262.6 403.7,262.9 404.0,262.1 404.3,262.3 404.7,263.3 405.0,261.3 405.3,262.4 405.6,261.6 405.9,262.9 406.2,263.2 406.5,262.3 406.8,261.5 407.1,262.4 407.4,262.4 407.7,262.7 408.0,262.3 408.3,262.6 408.6,263.0 408.9,262.3 409.2,262.1 409.5,263.2 409.8,261.7 410.0,262.7 410.3,262.1 410.6,262.8 410.9,261.5 411.2,263.3 411.4,262.0 411.7,261.4 412.0,261.8 412.3,262.1 412.5,261.3 412.8,262.1 413.1,262.1 413.3,262.7 413.6,262.0 413.9,261.8 414.1,261.7 414.4,262.8 414.7,263.2 414.9,262.3 415.2,261.7 415.4,262.9 415.7,262.1 416.0,261.7 416.2,261.5 416.5,262.8 416.7,262.9 417.0,262.6 417.3,262.2 417.6,262.4 417.9,261.7 418.2,263.2 418.5,262.0 418.8,262.6 419.1,262.9 419.4,262.9 419.7,262.2 420.0,261.9 420.3,262.4 420.6,261.5 420.9,263.0 421.2,262.0 421.5,263.0 421.8,261.8 422.0,262.1 422.3,261.8 422.6,262.2 422.9,261.7 423.2,261.3 423.5,262.8 423.7,261.9 424.0,261.8 424.3,261.9 424.5,262.3" fill="none" stroke="#00ff00" stroke-width="0.9" stroke-linejoin="round"/>
<polyline points="85.6,44.8 107.8,55.9 123.4,63.6 135.6,70.0 145.5,75.2 154.0,80.4 161.2,85.1 167.7,89.6 173.4,93.9 178.6,98.1 183.3,102.2 187.7,106.1 191.7,109.9 195.5,113.5 199.0,117.0 202.3,120.4 205.4,123.8 208.4,127.0 211.2,130.1 213.9,133.3 216.4,136.2 218.8,139.0 221.1,141.7 223.4,144.5 225.5,147.1 227.6,149.6 229.5,152.2 231.5,154.6 233.3,157.0 235.1,159.3 236.8,161.4 238.5,163.8 240.1,165.8 241.7,168.0 243.2,170.0 244.7,171.9 246.2,173.8 247.6,175.7 249.0,177.6 250.3,179.5 251.6,181.1 252.9,182.9 254.2,184.7 255.4,186.2 256.6,187.9 257.8,189.3 258.9,191.0 260.1,192.4 261.2,194.0 262.2,195.4 263.3,196.7 264.3,198.2 265.4,199.6 266.4,200.7 267.3,202.1 268.3,203.5 269.2,204.6 270.2,206.0 271.1,207.1 272.0,208.4 272.9,209.4 273.8,210.6 274.6,211.9 275.5,212.8 276.3,213.9 277.1,215.1 277.9,216.1 278.7,217.0 279.5,218.1 280.3,219.1 281.0,220.2 281.8,221.1 282.5,222.1 283.3,222.9 284.0,223.9 284.7,224.7 285.4,225.6 286.1,226.5 286.8,227.3 287.5,228.2 288.1,229.0 288.8,229.8 289.4,230.6 290.1,231.2 290.7,232.1 291.4,232.8 292.0,233.5 292.6,234.3 293.2,234.8 293.8,235.7 294.4,236.2 295.0,236.8 295.6,237.6 296.2,238.1 296.7,238.6 297.3,239.4 297.8,239.6 298.4,240.7 298.9,240.9 299.5,241.7 300.0,242.5 300.6,242.7 301.1,243.3 301.6,243.5 302.1,243.7 302.6,244.2 303.1,244.8 303.6,245.7 304.1,245.9 304.6,246.4 305.1,247.3 305.6,246.9 306.1,247.4 306.6,248.2 307.0,247.9 307.5,248.3 308.0,249.0 308.4,249.1 308.9,249.7 309.3,249.9 309.8,250.7 310.2,251.0 310.7,250.8 311.1,251.7 311.6,251.8 312.0,251.6 312.4,253.0 312.8,252.3 313.3,252.4 313.7,252.6 314.1,253.7 314.5,254.3 314.9,254.4 315.3,254.0 315.7,254.0 316.1,253.9 316.5,255.1 316.9,255.1 317.3,255.0 317.7,255.7 318.1,255.6 318.5,256.5 318.8,256.4 319.2,255.8 319.6,257.0 320.0,255.8 320.3,256.8 320.7,256.7 321.1,256.6 321.4,256.4 321.8,257.8 322.1,256.6 322.5,257.7 322.8,258.5 323.2,257.2 323.5,257.4 323.9,258.3 324.2,258.2 324.6,258.6 324.9,259.0 325.3,258.0 325.6,258.3 325.9,258.4 326.3,258.0 326.6,259.7 326.9,259.6 327.2,259.6 327.6,258.3 327.9,260.0 328.2,259.9 328.5,259.4 328.8,260.0 329.2,259.6 329.5,259.2 329.8,259.0 330.1,259.4 330.4,259.1 330.7,259.7 331.0,260.5 331.3,260.5 331.6,260.8 331.9,260.7 332.2,259.8 332.5,260.5 332.8,260.3 333.1,261.0 333.4,260.6 333.7,260.1 333.9,260.9 334.2,261.6 334.5,260.1 334.8,261.5 335.1,259.8 335.4,260.3 335.6,260.3 335.9,261.4 336.2,261.8 336.5,261.4 336.7,260.7 337.0,261.8 337.3,260.7 337.6,260.6 337.8,261.9 338.1,261.4 338.4,261.6 338.6,261.5 338.9,262.2 339.1,261.2 339.4,262.0 339.7,261.7 339.9,262.0 340.2,261.2 340.4,261.8 340.7,261.5 340.9,261.0 341.2,260.9 341.4,261.7 341.9,260.6 342.4,262.3 342.9,260.8 343.4,260.6 343.9,260.8 344.4,262.5 344.8,261.3 345.3,260.9 345.8,260.7 346.2,260.8 346.7,262.1 347.1,262.0 347.6,262.2 348.0,262.3 348.5,260.9 348.9,262.0 349.3,261.5 349.8,262.5 350.2,262.5 350.6,262.7 351.0,261.0 351.5,262.6 351.9,262.7 352.3,262.8 352.7,261.1 353.1,261.3 353.5,261.1 353.9,261.0 354.3,262.7 354.7,262.6 355.1,262.3 355.5,262.7 355.9,262.3 356.2,261.6 356.6,261.2 357.0,261.2 357.4,262.6 357.8,261.4 358.1,261.7 358.5,261.9 358.9,261.1 359.2,261.6 359.6,261.6 359.9,262.5 360.3,261.8 360.6,261.7 361.0,263.1 361.3,262.1 361.7,262.8 362.0,262.4 362.4,261.2 362.7,262.0 363.0,262.0 363.4,262.7 363.7,261.8 364.0,262.6 364.4,262.2 364.7,261.6 365.0,262.9 365.4,261.3 365.7,262.8 366.0,261.5 366.3,261.2 366.6,261.6 366.9,262.7 367.3,263.2 367.6,261.2 367.9,262.2 368.2,262.2 368.5,262.8 368.8,261.6 369.1,262.2 369.4,261.9 369.7,262.9 370.0,261.7 370.3,263.1 370.6,261.8 370.9,261.6 371.2,262.6 371.5,262.2 371.7,261.4 372.0,262.5 372.3,261.4 372.6,262.8 372.9,262.6 373.2,262.8 373.4,262.5 373.7,261.9 374.0,262.0 374.3,262.0 374.5,263.1 374.8,261.4 375.1,263.1 375.4,261.3 375.6,261.7 375.9,261.8 376.2,263.1 376.4,262.3 376.7,262.0 376.9,263.1 377.2,261.7 377.5,262.2 377.7,262.3 378.0,262.8 378.2,262.8 378.5,262.6 378.7,262.0 379.0,261.9 379.2,261.6 379.6,263.0 380.0,262.6 380.4,262.8 380.7,261.6 381.1,262.1 381.4,262.8 381.8,262.4 382.2,261.5 382.5,262.2 382.9,263.1 383.2,261.7 383.6,261.6 383.9,261.9 384.3,262.7 384.6,263.0 384.9,261.6 385.3,261.6 385.6,261.8 385.9,261.9 386.3,262.3 386.6,261.6 386.9,261.9 387.2,261.6 387.6,263.3 387.9,262.8 388.2,261.5 388.5,263.2 388.8,261.5 389.2,262.0 389.5,263.3 389.8,262.9 390.1,262.8 390.4,262.1 390.7,261.7 391.0,262.6 391.3,261.5 391.6,261.7 391.9,262.0 392.2,261.3 392.5,262.1 392.8,262.9 393.1,262.7 393.4,262.3 393.7,262.6 393.9,262.2 394.2,261.5 394.5,262.5 394.8,262.1 395.1,262.8 395.4,263.1 395.6,262.1 395.9,262.4 396.2,262.8 396.5,262.1 396.7,261.7 397.0,262.7 397.3,263.1 397.5,262.8 397.8,262.7 398.1,263.0 398.3,262.6 398.6,262.6 398.9,262.2 399.1,261.9 399.4,262.5 399.7,261.5 399.9,262.1 400.2,262.9 400.4,262.7 400.7,262.5 400.9,261.8 401.2,262.1 401.4,262.2 401.8,262.5 402.1,262.1 402.4,262.6 402.7,263.2 403.1,261.6 403.4,262.6 403.7,262.9 404.0,262.1 404.3,262.3 404.7,263.3 405.0,261.3 405.3,262.4 405.6,261.6 405.9,262.9 406.2,263.2 406.5,262.3 406.8,261.5 407.1,262.4 407.4,262.4 407.7,262.7 408.0,262.3 408.3,262.6 408.6,263.0 408.9,262.3 409.2,262.1 409.5,263.2 409.8,261.7 410.0,262.7 410.3,262.1 410.6,262.8 410.9,261.5 411.2,263.3 411.4,262.0 411.7,261.4 412.0,261.8 412.3,262.1 412.5,261.3 412.8,262.1 413.1,262.1 413.3,262.7 413.6,262.0 413.9,261.8 414.1,261.7 414.4,262.8 414.7,263.2 414.9,262.3 415.2,261.7 415.4,262.9 415.7,262.1 416.0,261.7 416.2,261.5 416.5,262.8 416.7,262.9 417.0,262.6 417.3,262.2 417.6,262.4 417.9,261.7 418.2,263.2 418.5,262.0 418.8,262.6 419.1,262.9 419.4,262.9 419.7,262.2 420.0,261.9 420.3,262.4 420.6,261.5 420.9,263.0 421.2,262.0 421.5,263.0 421.8,261.8 422.0,262.1 422.3,261.8 422.6,262.2 422.9,261.7 423.2,261.3 423.5,262.8 423.7,261.9 424.0,261.8 424.3,261.9 424.5,262.3" fill="none" stroke="none" marker-start="url(#m-green)" marker-mid="url(#m-green)" marker-end="url(#m-green)"/>
</g>
<g>
<polyline clip-path="url(#plotclip)" points="47.9,37.3 85.6,48.7 107.8,60.5 123.4,70.3 135.6,78.8 145.5,86.0 154.0,92.4 161.2,98.9 167.7,105.0 173.4,111.0 178.6,116.6 183.3,122.4 187.7,127.6 191.7,132.5 195.5,137.2 199.0,141.9 202.3,146.1 205.4,149.6 208.4,152.7 211.2,155.7 213.9,159.2 216.4,163.0 218.8,166.8 221.1,170.6 223.4,174.4 225.5,177.8 227.6,180.7 229.5,183.6 231.5,186.1 233.3,188.5 235.1,190.8 236.8,193.1 238.5,195.4 240.1,197.6 241.7,199.7 243.2,202.0 244.7,204.1 246.2,206.2 247.6,208.1 249.0,210.2 250.3,212.1 251.6,213.9 252.9,215.7 254.2,217.4 255.4,219.1 256.6,220.6 257.8,222.3 258.9,223.7 260.1,225.2 261.2,226.6 262.2,227.9 263.3,229.3 264.3,230.3 265.4,231.6 266.4,232.6 267.3,233.7 268.3,234.7 269.2,235.6 270.2,236.4 271.1,237.2 272.0,238.2 272.9,238.6 273.8,239.6 274.6,240.3 275.5,240.6 276.3,241.6 277.1,242.2 277.9,243.0 278.7,243.1 279.5,244.2 280.3,244.3 281.0,244.8 281.8,245.7 282.5,245.3 283.3,246.5 284.0,246.8 284.7,247.0 285.4,248.0 286.1,247.9 286.8,248.4 287.5,248.9 288.1,249.6 288.8,249.4 289.4,250.0 290.1,250.4 290.7,251.0 291.4,251.7 292.0,251.4 292.6,252.5 293.2,252.3 293.8,252.8 294.4,252.8 295.0,253.4 295.6,254.5 296.2,254.3 296.7,254.9 297.3,254.5 297.8,254.7 298.4,255.0 298.9,255.8 299.5,256.1 300.0,256.6 300.6,255.7 301.1,257.1 301.6,257.6 302.1,257.3 302.6,256.7 303.1,257.3 303.6,257.0 304.1,257.6 304.6,259.1 305.1,258.7 305.6,259.0 306.1,259.5 306.6,259.9 307.0,259.5 307.5,259.7 308.0,259.9 308.4,260.2 308.9,260.1 309.3,260.4 309.8,259.7 310.2,260.7 310.7,260.4 311.1,261.1 311.6,259.9 312.0,260.2 312.4,260.0 312.8,261.6 313.3,261.9 313.7,261.5 314.1,261.0 314.5,262.0 314.9,262.0 315.3,261.6 315.7,261.1 316.1,261.2 316.5,261.5 316.9,261.4 317.3,261.6 317.7,262.1 318.1,262.8 318.5,261.0 318.8,262.1 319.2,261.1 319.6,261.2 320.0,262.7 320.3,262.2 320.7,263.0 321.1,262.0 321.4,261.2 321.8,261.9 322.1,262.4 322.5,263.1 322.8,263.2 323.2,262.2 323.5,262.1 323.9,261.4 324.2,262.6 324.6,261.7 324.9,261.6 325.3,261.3 325.6,261.3 325.9,262.7 326.3,261.5 326.6,263.3 326.9,261.5 327.2,263.1 327.6,261.5 327.9,261.3 328.2,262.8 328.5,261.8 328.8,262.8 329.2,261.7 329.5,261.4 329.8,262.9 330.1,262.7 330.4,263.0 330.7,262.8 331.0,261.4 331.3,262.6 331.6,262.7 331.9,262.2 332.2,263.2 332.5,261.8 332.8,263.3 333.1,262.8 333.4,261.3 333.7,261.3 333.9,262.6 334.2,263.0 334.5,261.4 334.8,261.9 335.1,262.8 335.4,261.6 335.6,263.0 335.9,262.3 336.2,261.4 336.5,262.0 336.7,262.5 337.0,262.2 337.3,262.7 337.6,261.6 337.8,262.9 338.1,262.0 338.4,262.6 338.6,262.6 338.9,262.1 339.1,262.1 339.4,262.9 339.7,263.2 339.9,262.9 340.2,262.4 340.4,261.9 340.7,261.4 340.9,263.3 341.2,262.7 341.4,263.0 341.9,262.0 342.4,262.5 342.9,263.3 343.4,263.0 343.9,262.5 344.4,261.9 344.8,262.2 345.3,263.1 345.8,262.0 346.2,262.7 346.7,262.5 347.1,263.1 347.6,262.9 348.0,261.9 348.5,261.3 348.9,261.8 349.3,262.1 349.8,262.5 350.2,263.0 350.6,263.1 351.0,261.4 351.5,263.0 351.9,262.9 352.3,263.1 352.7,262.5 353.1,261.8 353.5,263.0 353.9,262.9 354.3,262.7 354.7,263.2 355.1,262.0 355.5,261.4 355.9,262.4 356.2,262.9 356.6,261.7 357.0,262.8 357.4,263.2 357.8,261.8 358.1,262.5 358.5,262.7 358.9,262.2 359.2,261.7 359.6,261.8 359.9,262.8 360.3,262.9 360.6,262.2 361.0,261.5 361.3,262.9 361.7,262.9 362.0,261.8 362.4,262.5 362.7,263.1 363.0,263.1 363.4,262.3 363.7,262.3 364.0,262.5 364.4,261.7 364.7,261.7 365.0,261.6 365.4,262.7 365.7,262.0 366.0,262.4 366.3,262.1 366.6,262.3 366.9,261.6 367.3,261.4 367.6,263.3 367.9,262.0 368.2,261.5 368.5,262.6 368.8,262.9 369.1,261.6 369.4,262.5 369.7,262.0 370.0,262.3 370.3,261.3 370.6,261.3 370.9,263.3 371.2,263.1 371.5,262.3 371.7,262.4 372.0,261.8 372.3,262.9 372.6,262.2 372.9,263.2 373.2,262.9 373.4,263.0 373.7,263.3 374.0,261.8 374.3,261.4 374.5,261.7 374.8,261.6 375.1,261.4 375.4,261.4 375.6,262.4 375.9,263.1 376.2,262.2 376.4,263.2 376.7,263.1 376.9,261.4 377.2,262.5 377.5,262.1 377.7,261.5 378.0,263.2 378.2,261.8 378.5,262.4 378.7,262.6 379.0,263.2 379.2,262.7 379.6,262.1 380.0,262.2 380.4,261.6 380.7,263.3 381.1,263.3 381.4,261.7 381.8,261.4 382.2,261.8 382.5,262.0 382.9,263.1 383.2,263.1 383.6,263.0 383.9,261.4 384.3,262.9 384.6,262.7 384.9,262.6 385.3,263.3 385.6,261.4 385.9,261.6 386.3,262.8 386.6,263.2 386.9,262.7 387.2,261.9 387.6,262.5 387.9,262.9 388.2,261.5 388.5,262.0 388.8,261.8 389.2,261.6 389.5,262.3 389.8,261.6 390.1,261.8 390.4,261.6 390.7,262.7 391.0,261.3 391.3,262.8 391.6,261.7 391.9,261.4 392.2,263.2 392.5,261.8 392.8,263.2 393.1,263.1 393.4,263.1 393.7,261.6 393.9,262.2 394.2,261.5 394.5,263.2 394.8,263.1 395.1,262.6 395.4,262.2 395.6,262.0 395.9,263.0 396.2,262.3 396.5,262.6 396.7,261.6 397.0,261.8 397.3,261.4 397.5,262.8 397.8,262.5 398.1,261.6 398.3,263.1 398.6,261.9 398.9,262.2 399.1,261.6 399.4,261.9 399.7,263.1 399.9,262.0 400.2,261.7 400.4,262.3 400.7,262.0 400.9,263.2 401.2,261.6 401.4,263.3 401.8,261.4 402.1,263.2 402.4,262.7 402.7,261.8 403.1,262.3 403.4,261.9 403.7,261.9 404.0,261.7 404.3,262.1 404.7,263.4 405.0,263.4 405.3,263.2 405.6,261.5 405.9,261.9 406.2,263.2 406.5,261.4 406.8,262.8 407.1,261.9 407.4,263.3 407.7,261.4 408.0,263.0 408.3,262.0 408.6,261.6 408.9,261.3 409.2,263.0 409.5,262.4 409.8,261.7 410.0,262.2 410.3,263.2 410.6,261.8 410.9,262.5 411.2,261.6 411.4,261.7 411.7,262.9 412.0,262.8 412.3,261.7 412.5,261.5 412.8,261.5 413.1,262.6 413.3,262.4 413.6,261.9 413.9,261.8 414.1,262.6 414.4,262.8 414.7,263.0 414.9,262.5 415.2,261.7 415.4,261.5 415.7,262.8 416.0,262.2 416.2,262.8 416.5,261.4 416.7,263.0 417.0,262.0 417.3,263.1 417.6,263.1 417.9,262.3 418.2,261.4 418.5,263.2 418.8,262.3 419.1,263.1 419.4,261.9 419.7,261.7 420.0,263.0 420.3,262.1 420.6,261.7 420.9,262.1 421.2,262.6 421.5,261.3 421.8,262.4 422.0,262.2 422.3,262.4 422.6,261.6 422.9,262.8 423.2,263.0 423.5,263.1 423.7,262.0 424.0,262.8 424.3,262.1 424.5,262.9" fill="none" stroke="#0000ff" stroke-width="0.9" stroke-linejoin="round"/>
<polyline points="85.6,48.7 107.8,60.5 123.4,70.3 135.6,78.8 145.5,86.0 154.0,92.4 161.2,98.9 167.7,105.0 173.4,111.0 178.6,116.6 183.3,122.4 187.7,127.6 191.7,132.5 195.5,137.2 199.0,141.9 202.3,146.1 205.4,149.6 208.4,152.7 211.2,155.7 213.9,159.2 216.4,163.0 218.8,166.8 221.1,170.6 223.4,174.4 225.5,177.8 227.6,180.7 229.5,183.6 231.5,186.1 233.3,188.5 235.1,190.8 236.8,193.1 238.5,195.4 240.1,197.6 241.7,199.7 243.2,202.0 244.7,204.1 246.2,206.2 247.6,208.1 249.0,210.2 250.3,212.1 251.6,213.9 252.9,215.7 254.2,217.4 255.4,219.1 256.6,220.6 257.8,222.3 258.9,223.7 260.1,225.2 261.2,226.6 262.2,227.9 263.3,229.3 264.3,230.3 265.4,231.6 266.4,232.6 267.3,233.7 268.3,234.7 269.2,235.6 270.2,236.4 271.1,237.2 272.0,238.2 272.9,238.6 273.8,239.6 274.6,240.3 275.5,240.6 276.3,241.6 277.1,242.2 277.9,243.0 278.7,243.1 279.5,244.2 280.3,244.3 281.0,244.8 281.8,245.7 282.5,245.3 283.3,246.5 284.0,246.8 284.7,247.0 285.4,248.0 286.1,247.9 286.8,248.4 287.5,248.9 288.1,249.6 288.8,249.4 289.4,250.0 290.1,250.4 290.7,251.0 291.4,251.7 292.0,251.4 292.6,252.5 293.2,252.3 293.8,252.8 294.4,252.8 295.0,253.4 295.6,254.5 296.2,254.3 296.7,254.9 297.3,254.5 297.8,254.7 298.4,255.0 298.9,255.8 299.5,256.1 300.0,256.6 300.6,255.7 301.1,257.1 301.6,257.6 302.1,257.3 302.6,256.7 303.1,257.3 303.6,257.0 304.1,257.6 304.6,259.1 305.1,258.7 305.6,259.0 306.1,259.5 306.6,259.9 307.0,259.5 307.5,259.7 308.0,259.9 308.4,260.2 308.9,260.1 309.3,260.4 309.8,259.7 310.2,260.7 310.7,260.4 311.1,261.1 311.6,259.9 312.0,260.2 312.4,260.0 312.8,261.6 313.3,261.9 313.7,261.5 314.1,261.0 314.5,262.0 314.9,262.0 315.3,261.6 315.7,261.1 316.1,261.2 316.5,261.5 316.9,261.4 317.3,261.6 317.7,262.1 318.1,262.8 318.5,261.0 318.8,262.1 319.2,261.1 319.6,261.2 320.0,262.7 320.3,262.2 320.7,263.0 321.1,262.0 321.4,261.2 321.8,261.9 322.1,262.4 322.5,263.1 322.8,263.2 323.2,262.2 323.5,262.1 323.9,261.4 324.2,262.6 324.6,261.7 324.9,261.6 325.3,261.3 325.6,261.3 325.9,262.7 326.3,261.5 326.6,263.3 326.9,261.5 327.2,263.1 327.6,261.5 327.9,261.3 328.2,262.8 328.5,261.8 328.8,262.8 329.2,261.7 329.5,261.4 329.8,262.9 330.1,262.7 330.4,263.0 330.7,262.8 331.0,261.4 331.3,262.6 331.6,262.7 331.9,262.2 332.2,263.2 332.5,261.8 332.8,263.3 333.1,262.8 333.4,261.3 333.7,261.3 333.9,262.6 334.2,263.0 334.5,261.4 334.8,261.9 335.1,262.8 335.4,261.6 335.6,263.0 335.9,262.3 336.2,261.4 336.5,262.0 336.7,262.5 337.0,262.2 337.3,262.7 337.6,261.6 337.8,262.9 338.1,262.0 338.4,262.6 338.6,262.6 338.9,262.1 339.1,262.1 339.4,262.9 339.7,263.2 339.9,262.9 340.2,262.4 340.4,261.9 340.7,261.4 340.9,263.3 341.2,262.7 341.4,263.0 341.9,262.0 342.4,262.5 342.9,263.3 343.4,263.0 343.9,262.5 344.4,261.9 344.8,262.2 345.3,263.1 345.8,262.0 346.2,262.7 346.7,262.5 347.1,263.1 347.6,262.9 348.0,261.9 348.5,261.3 348.9,261.8 349.3,262.1 349.8,262.5 350.2,263.0 350.6,263.1 351.0,261.4 351.5,263.0 351.9,262.9 352.3,263.1 352.7,262.5 353.1,261.8 353.5,263.0 353.9,262.9 354.3,262.7 354.7,263.2 355.1,262.0 355.5,261.4 355.9,262.4 356.2,262.9 356.6,261.7 357.0,262.8 357.4,263.2 357.8,261.8 358.1,262.5 358.5,262.7 358.9,262.2 359.2,261.7 359.6,261.8 359.9,262.8 360.3,262.9 360.6,262.2 361.0,261.5 361.3,262.9 361.7,262.9 362.0,261.8 362.4,262.5 362.7,263.1 363.0,263.1 363.4,262.3 363.7,262.3 364.0,262.5 364.4,261.7 364.7,261.7 365.0,261.6 365.4,262.7 365.7,262.0 366.0,262.4 366.3,262.1 366.6,262.3 366.9,261.6 367.3,261.4 367.6,263.3 367.9,262.0 368.2,261.5 368.5,262.6 368.8,262.9 369.1,261.6 369.4,262.5 369.7,262.0 370.0,262.3 370.3,261.3 370.6,261.3 370.9,263.3 371.2,263.1 371.5,262.3 371.7,262.4 372.0,261.8 372.3,262.9 372.6,262.2 372.9,263.2 373.2,262.9 373.4,263.0 373.7,263.3 374.0,261.8 374.3,261.4 374.5,261.7 374.8,261.6 375.1,261.4 375.4,261.4 375.6,262.4 375.9,263.1 376.2,262.2 376.4,263.2 376.7,263.1 376.9,261.4 377.2,262.5 377.5,262.1 377.7,261.5 378.0,263.2 378.2,261.8 378.5,262.4 378.7,262.6 379.0,263.2 379.2,262.7 379.6,262.1 380.0,262.2 380.4,261.6 380.7,263.3 381.1,263.3 381.4,261.7 381.8,261.4 382.2,261.8 382.5,262.0 382.9,263.1 383.2,263.1 383.6,263.0 383.9,261.4 384.3,262.9 384.6,262.7 384.9,262.6 385.3,263.3 385.6,261.4 385.9,261.6 386.3,262.8 386.6,263.2 386.9,262.7 387.2,261.9 387.6,262.5 387.9,262.9 388.2,261.5 388.5,262.0 388.8,261.8 389.2,261.6 389.5,262.3 389.8,261.6 390.1,261.8 390.4,261.6 390.7,262.7 391.0,261.3 391.3,262.8 391.6,261.7 391.9,261.4 392.2,263.2 392.5,261.8 392.8,263.2 393.1,263.1 393.4,263.1 393.7,261.6 393.9,262.2 394.2,261.5 394.5,263.2 394.8,263.1 395.1,262.6 395.4,262.2 395.6,262.0 395.9,263.0 396.2,262.3 396.5,262.6 396.7,261.6 397.0,261.8 397.3,261.4 397.5,262.8 397.8,262.5 398.1,261.6 398.3,263.1 398.6,261.9 398.9,262.2 399.1,261.6 399.4,261.9 399.7,263.1 399.9,262.0 400.2,261.7 400.4,262.3 400.7,262.0 400.9,263.2 401.2,261.6 401.4,263.3 401.8,261.4 402.1,263.2 402.4,262.7 402.7,261.8 403.1,262.3 403.4,261.9 403.7,261.9 404.0,261.7 404.3,262.1 404.7,263.4 405.0,263.4 405.3,263.2 405.6,261.5 405.9,261.9 406.2,263.2 406.5,261.4 406.8,262.8 407.1,261.9 407.4,263.3 407.7,261.4 408.0,263.0 408.3,262.0 408.6,261.6 408.9,261.3 409.2,263.0 409.5,262.4 409.8,261.7 410.0,262.2 410.3,263.2 410.6,261.8 410.9,262.5 411.2,261.6 411.4,261.7 411.7,262.9 412.0,262.8 412.3,261.7 412.5,261.5 412.8,261.5 413.1,262.6 413.3,262.4 413.6,261.9 413.9,261.8 414.1,262.6 414.4,262.8 414.7,263.0 414.9,262.5 415.2,261.7 415.4,261.5 415.7,262.8 416.0,262.2 416.2,262.8 416.5,261.4 416.7,263.0 417.0,262.0 417.3,263.1 417.6,263.1 417.9,262.3 418.2,261.4 418.5,263.2 418.8,262.3 419.1,263.1 419.4,261.9 419.7,261.7 420.0,263.0 420.3,262.1 420.6,261.7 420.9,262.1 421.2,262.6 421.5,261.3 421.8,262.4 422.0,262.2 422.3,262.4 422.6,261.6 422.9,262.8 423.2,263.0 423.5,263.1 423.7,262.0 424.0,262.8 424.3,262.1 424.5,262.9" fill="none" stroke="none" marker-start="url(#m-blue)" marker-mid="url(#m-blue)" marker-end="url(#m-blue)"/>
</g>
<g>
<polyline clip-path="url(#plotclip)" points="47.9,39.3 85.6,54.2 107.8,68.0 123.4,79.7 135.6,89.9 145.5,98.8 154.0,107.0 161.2,114.7 167.7,122.4 173.4,129.4 178.6,136.0 183.3,141.9 187.7,147.4 191.7,152.9 195.5,157.9 199.0,163.2 202.3,168.5 205.4,173.4 208.4,178.2 211.2,182.9 213.9,187.2 216.4,191.3 218.8,195.1 221.1,198.5 223.4,202.0 225.5,205.0 227.6,207.7 229.5,210.3 231.5,212.7 233.3,214.8 235.1,216.7 236.8,218.5 238.5,220.4 240.1,222.0 241.7,223.8 243.2,225.6 244.7,227.0 246.2,228.7 247.6,230.3 249.0,231.7 250.3,233.3 251.6,234.7 252.9,236.0 254.2,237.3 255.4,238.7 256.6,239.8 257.8,240.8 258.9,242.3 260.1,243.2 261.2,243.8 262.2,244.6 263.3,245.6 264.3,246.5 265.4,247.9 266.4,248.5 267.3,249.3 268.3,249.9 269.2,250.6 270.2,250.2 271.1,251.4 272.0,252.5 272.9,253.0 273.8,252.6 274.6,253.3 275.5,254.1 276.3,254.1 277.1,254.8 277.9,254.4 278.7,255.4 279.5,255.9 280.3,255.4 281.0,255.9 281.8,257.6 282.5,257.6 283.3,258.2 284.0,257.9 284.7,258.5 285.4,258.9 286.1,259.1 286.8,257.8 287.5,259.1 288.1,258.6 288.8,259.6 289.4,259.0 290.1,259.7 290.7,260.6 291.4,260.2 292.0,259.6 292.6,260.3 293.2,260.3 293.8,261.4 294.4,260.3 295.0,260.4 295.6,261.2 296.2,260.3 296.7,261.3 297.3,262.1 297.8,261.3 298.4,260.9 298.9,261.4 299.5,261.6 300.0,260.9 300.6,260.9 301.1,261.0 301.6,261.4 302.1,261.7 302.6,261.5 303.1,261.5 303.6,261.2 304.1,262.2 304.6,262.8 305.1,262.4 305.6,262.4 306.1,262.6 306.6,261.7 307.0,262.8 307.5,262.3 308.0,262.5 308.4,262.6 308.9,262.3 309.3,262.0 309.8,261.9 310.2,261.8 310.7,262.4 311.1,262.2 311.6,262.6 312.0,261.4 312.4,262.1 312.8,263.1 313.3,261.9 313.7,262.5 314.1,262.4 314.5,262.0 314.9,263.4 315.3,262.0 315.7,263.0 316.1,261.7 316.5,261.5 316.9,263.2 317.3,262.3 317.7,261.5 318.1,262.2 318.5,262.3 318.8,262.9 319.2,261.6 319.6,261.8 320.0,263.3 320.3,262.9 320.7,261.7 321.1,262.1 321.4,262.1 321.8,262.8 322.1,262.6 322.5,263.1 322.8,263.1 323.2,262.4 323.5,262.9 323.9,262.9 324.2,262.9 324.6,262.3 324.9,263.0 325.3,262.8 325.6,263.3 325.9,261.6 326.3,263.2 326.6,261.4 326.9,262.9 327.2,262.6 327.6,262.4 327.9,263.4 328.2,262.5 328.5,262.2 328.8,263.0 329.2,263.2 329.5,262.6 329.8,262.2 330.1,262.3 330.4,262.3 330.7,262.9 331.0,262.0 331.3,262.2 331.6,262.5 331.9,262.2 332.2,262.0 332.5,263.0 332.8,263.1 333.1,262.4 333.4,262.3 333.7,261.7 333.9,262.0 334.2,261.7 334.5,262.6 334.8,262.6 335.1,261.5 335.4,263.3 335.6,262.0 335.9,263.1 336.2,263.1 336.5,263.3 336.7,261.8 337.0,262.2 337.3,263.2 337.6,261.4 337.8,261.5 338.1,262.5 338.4,262.4 338.6,263.3 338.9,263.0 339.1,262.5 339.4,263.4 339.7,262.4 339.9,262.4 340.2,262.8 340.4,262.2 340.7,262.1 340.9,262.6 341.2,262.1 341.4,263.3 341.9,262.8 342.4,262.5 342.9,261.6 343.4,262.1 343.9,262.2 344.4,262.5 344.8,262.6 345.3,263.2 345.8,263.4 346.2,262.4 346.7,262.3 347.1,262.7 347.6,263.4 348.0,262.1 348.5,262.5 348.9,263.1 349.3,261.7 349.8,262.0 350.2,263.4 350.6,263.1 351.0,262.4 351.5,261.6 351.9,263.2 352.3,262.8 352.7,263.1 353.1,263.4 353.5,263.2 353.9,262.2 354.3,261.7 354.7,262.0 355.1,262.4 355.5,262.4 355.9,261.8 356.2,261.7 356.6,262.7 357.0,262.6 357.4,262.1 357.8,263.4 358.1,262.7 358.5,261.5 358.9,262.2 359.2,263.0 359.6,262.0 359.9,262.8 360.3,261.4 360.6,262.0 361.0,263.1 361.3,262.6 361.7,262.7 362.0,261.8 362.4,262.4 362.7,262.5 363.0,261.9 363.4,262.7 363.7,262.5 364.0,263.4 364.4,262.6 364.7,262.2 365.0,261.6 365.4,261.7 365.7,262.9 366.0,261.6 366.3,261.6 366.6,261.7 366.9,262.4 367.3,263.1 367.6,262.6 367.9,263.0 368.2,261.5 368.5,261.4 368.8,263.0 369.1,262.0 369.4,262.8 369.7,262.1 370.0,261.7 370.3,261.9 370.6,261.6 370.9,263.2 371.2,262.6 371.5,262.1 371.7,262.3 372.0,262.2 372.3,261.5 372.6,263.2 372.9,262.6 373.2,263.3 373.4,262.3 373.7,262.6 374.0,261.9 374.3,261.5 374.5,263.3 374.8,263.1 375.1,262.0 375.4,263.2 375.6,263.1 375.9,262.0 376.2,262.6 376.4,263.4 376.7,262.4 376.9,263.3 377.2,261.9 377.5,262.2 377.7,262.9 378.0,261.8 378.2,262.0 378.5,263.2 378.7,262.4 379.0,263.0 379.2,261.9 379.6,261.7 380.0,262.1 380.4,261.8 380.7,263.4 381.1,262.0 381.4,262.5 381.8,261.6 382.2,262.5 382.5,262.2 382.9,262.2 383.2,261.5 383.6,261.6 383.9,263.1 384.3,262.1 384.6,261.9 384.9,261.8 385.3,262.0 385.6,261.9 385.9,261.4 386.3,262.7 386.6,262.1 386.9,261.7 387.2,262.8 387.6,261.6 387.9,261.9 388.2,263.1 388.5,261.6 388.8,262.3 389.2,263.1 389.5,263.0 389.8,261.7 390.1,262.1 390.4,262.9 390.7,262.1 391.0,263.3 391.3,261.8 391.6,263.3 391.9,262.4 392.2,261.8 392.5,262.3 392.8,261.6 393.1,262.8 393.4,261.9 393.7,263.2 393.9,262.6 394.2,262.1 394.5,261.9 394.8,262.6 395.1,261.8 395.4,263.2 395.6,261.6 395.9,262.4 396.2,262.5 396.5,261.9 396.7,263.0 397.0,262.2 397.3,262.7 397.5,262.5 397.8,262.0 398.1,262.2 398.3,261.5 398.6,261.7 398.9,263.1 399.1,262.0 399.4,262.7 399.7,261.6 399.9,262.5 400.2,262.1 400.4,262.4 400.7,262.0 400.9,261.5 401.2,262.0 401.4,261.8 401.8,261.6 402.1,262.8 402.4,262.0 402.7,262.2 403.1,263.2 403.4,263.0 403.7,263.2 404.0,263.1 404.3,261.6 404.7,261.9 405.0,261.4 405.3,262.8 405.6,262.7 405.9,262.1 406.2,262.2 406.5,262.7 406.8,262.8 407.1,261.9 407.4,263.1 407.7,262.1 408.0,262.7 408.3,261.7 408.6,261.6 408.9,263.3 409.2,262.9 409.5,262.8 409.8,261.5 410.0,261.4 410.3,261.7 410.6,261.8 410.9,262.0 411.2,262.2 411.4,261.4 411.7,262.0 412.0,262.7 412.3,261.7 412.5,263.1 412.8,262.5 413.1,262.8 413.3,261.9 413.6,262.3 413.9,262.8 414.1,262.1 414.4,261.4 414.7,263.1 414.9,263.0 415.2,262.0 415.4,261.5 415.7,263.1 416.0,262.6 416.2,261.5 416.5,261.9 416.7,261.6 417.0,263.0 417.3,261.8 417.6,263.3 417.9,262.9 418.2,261.5 418.5,262.8 418.8,262.2 419.1,262.9 419.4,263.1 419.7,261.9 420.0,261.6 420.3,263.3 420.6,262.2 420.9,263.3 421.2,262.8 421.5,262.9 421.8,263.1 422.0,262.7 422.3,262.3 422.6,261.5 422.9,262.8 423.2,262.3 423.5,262.4 423.7,263.3 424.0,261.6 424.3,262.9 424.5,261.5" fill="none" stroke="#ffa500" stroke-width="0.9" stroke-linejoin="round"/>
<polyline points="85.6,54.2 107.8,68.0 123.4,79.7 135.6,89.9 145.5,98.8 154.0,107.0 161.2,114.7 167.7,122.4 173.4,129.4 178.6,136.0 183.3,141.9 187.7,147.4 191.7,152.9 195.5,157.9 199.0,163.2 202.3,168.5 205.4,173.4 208.4,178.2 211.2,182.9 213.9,187.2 216.4,191.3 218.8,195.1 221.1,198.5 223.4,202.0 225.5,205.0 227.6,207.7 229.5,210.3 231.5,212.7 233.3,214.8 235.1,216.7 236.8,218.5 238.5,220.4 240.1,222.0 241.7,223.8 243.2,225.6 244.7,227.0 246.2,228.7 247.6,230.3 249.0,231.7 250.3,233.3 251.6,234.7 252.9,236.0 254.2,237.3 255.4,238.7 256.6,239.8 257.8,240.8 258.9,242.3 260.1,243.2 261.2,243.8 262.2,244.6 263.3,245.6 264.3,246.5 265.4,247.9 266.4,248.5 267.3,249.3 268.3,249.9 269.2,250.6 270.2,250.2 271.1,251.4 272.0,252.5 272.9,253.0 273.8,252.6 274.6,253.3 275.5,254.1 276.3,254.1 277.1,254.8 277.9,254.4 278.7,255.4 279.5,255.9 280.3,255.4 281.0,255.9 281.8,257.6 282.5,257.6 283.3,258.2 284.0,257.9 284.7,258.5 285.4,258.9 286.1,259.1 286.8,257.8 287.5,259.1 288.1,258.6 288.8,259.6 289.4,259.0 290.1,259.7 290.7,260.6 291.4,260.2 292.0,259.6 292.6,260.3 293.2,260.3 293.8,261.4 294.4,260.3 295.0,260.4 295.6,261.2 296.2,260.3 296.7,261.3 297.3,262.1 297.8,261.3 298.4,260.9 298.9,261.4 299.5,261.6 300.0,260.9 300.6,260.9 301.1,261.0 301.6,261.4 302.1,261.7 302.6,261.5 303.1,261.5 303.6,261.2 304.1,262.2 304.6,262.8 305.1,262.4 305.6,262.4 306.1,262.6 306.6,261.7 307.0,262.8 307.5,262.3 308.0,262.5 308.4,262.6 308.9,262.3 309.3,262.0 309.8,261.9 310.2,261.8 310.7,262.4 311.1,262.2 311.6,262.6 312.0,261.4 312.4,262.1 312.8,263.1 313.3,261.9 313.7,262.5 314.1,262.4 314.5,262.0 314.9,263.4 315.3,262.0 315.7,263.0 316.1,261.7 316.5,261.5 316.9,263.2 317.3,262.3 317.7,261.5 318.1,262.2 318.5,262.3 318.8,262.9 319.2,261.6 319.6,261.8 320.0,263.3 320.3,262.9 320.7,261.7 321.1,262.1 321.4,262.1 321.8,262.8 322.1,262.6 322.5,263.1 322.8,263.1 323.2,262.4 323.5,262.9 323.9,262.9 324.2,262.9 324.6,262.3 324.9,263.0 325.3,262.8 325.6,263.3 325.9,261.6 326.3,263.2 326.6,261.4 326.9,262.9 327.2,262.6 327.6,262.4 327.9,263.4 328.2,262.5 328.5,262.2 328.8,263.0 329.2,263.2 329.5,262.6 329.8,262.2 330.1,262.3 330.4,262.3 330.7,262.9 331.0,262.0 331.3,262.2 331.6,262.5 331.9,262.2 332.2,262.0 332.5,263.0 332.8,263.1 333.1,262.4 333.4,262.3 333.7,261.7 333.9,262.0 334.2,261.7 334.5,262.6 334.8,262.6 335.1,261.5 335.4,263.3 335.6,262.0 335.9,263.1 336.2,263.1 336.5,263.3 336.7,261.8 337.0,262.2 337.3,263.2 337.6,261.4 337.8,261.5 338.1,262.5 338.4,262.4 338.6,263.3 338.9,263.0 339.1,262.5 339.4,263.4 339.7,262.4 339.9,262.4 340.2,262.8 340.4,262.2 340.7,262.1 340.9,262.6 341.2,262.1 341.4,263.3 341.9,262.8 342.4,262.5 342.9,261.6 343.4,262.1 343.9,262.2 344.4,262.5 344.8,262.6 345.3,263.2 345.8,263.4 346.2,262.4 346.7,262.3 347.1,262.7 347.6,263.4 348.0,262.1 348.5,262.5 348.9,263.1 349.3,261.7 349.8,262.0 350.2,263.4 350.6,263.1 351.0,262.4 351.5,261.6 351.9,263.2 352.3,262.8 352.7,263.1 353.1,263.4 353.5,263.2 353.9,262.2 354.3,261.7 354.7,262.0 355.1,262.4 355.5,262.4 355.9,261.8 356.2,261.7 356.6,262.7 357.0,262.6 357.4,262.1 357.8,263.4 358.1,262.7 358.5,261.5 358.9,262.2 359.2,263.0 359.6,262.0 359.9,262.8 360.3,261.4 360.6,262.0 361.0,263.1 361.3,262.6 361.7,262.7 362.0,261.8 362.4,262.4 362.7,262.5 363.0,261.9 363.4,262.7 363.7,262.5 364.0,263.4 364.4,262.6 364.7,262.2 365.0,261.6 365.4,261.7 365.7,262.9 366.0,261.6 366.3,261.6 366.6,261.7 366.9,262.4 367.3,263.1 367.6,262.6 367.9,263.0 368.2,261.5 368.5,261.4 368.8,263.0 369.1,262.0 369.4,262.8 369.7,262.1 370.0,261.7 370.3,261.9 370.6,261.6 370.9,263.2 371.2,262.6 371.5,262.1 371.7,262.3 372.0,262.2 372.3,261.5 372.6,263.2 372.9,262.6 373.2,263.3 373.4,262.3 373.7,262.6 374.0,261.9 374.3,261.5 374.5,263.3 374.8,263.1 375.1,262.0 375.4,263.2 375.6,263.1 375.9,262.0 376.2,262.6 376.4,263.4 376.7,262.4 376.9,263.3 377.2,261.9 377.5,262.2 377.7,262.9 378.0,261.8 378.2,262.0 378.5,263.2 378.7,262.4 379.0,263.0 379.2,261.9 379.6,261.7 380.0,262.1 380.4,261.8 380.7,263.4 381.1,262.0 381.4,262.5 381.8,261.6 382.2,262.5 382.5,262.2 382.9,262.2 383.2,261.5 383.6,261.6 383.9,263.1 384.3,262.1 384.6,261.9 384.9,261.8 385.3,262.0 385.6,261.9 385.9,261.4 386.3,262.7 386.6,262.1 386.9,261.7 387.2,262.8 387.6,261.6 387.9,261.9 388.2,263.1 388.5,261.6 388.8,262.3 389.2,263.1 389.5,263.0 389.8,261.7 390.1,262.1 390.4,262.9 390.7,262.1 391.0,263.3 391.3,261.8 391.6,263.3 391.9,262.4 392.2,261.8 392.5,262.3 392.8,261.6 393.1,262.8 393.4,261.9 393.7,263.2 393.9,262.6 394.2,262.1 394.5,261.9 394.8,262.6 395.1,261.8 395.4,263.2 395.6,261.6 395.9,262.4 396.2,262.5 396.5,261.9 396.7,263.0 397.0,262.2 397.3,262.7 397.5,262.5 397.8,262.0 398.1,262.2 398.3,261.5 398.6,261.7 398.9,263.1 399.1,262.0 399.4,262.7 399.7,261.6 399.9,262.5 400.2,262.1 400.4,262.4 400.7,262.0 400.9,261.5 401.2,262.0 401.4,261.8 401.8,261.6 402.1,262.8 402.4,262.0 402.7,262.2 403.1,263.2 403.4,263.0 403.7,263.2 404.0,263.1 404.3,261.6 404.7,261.9 405.0,261.4 405.3,262.8 405.6,262.7 405.9,262.1 406.2,262.2 406.5,262.7 406.8,262.8 407.1,261.9 407.4,263.1 407.7,262.1 408.0,262.7 408.3,261.7 408.6,261.6 408.9,263.3 409.2,262.9 409.5,262.8 409.8,261.5 410.0,261.4 410.3,261.7 410.6,261.8 410.9,262.0 411.2,262.2 411.4,261.4 411.7,262.0 412.0,262.7 412.3,261.7 412.5,263.1 412.8,262.5 413.1,262.8 413.3,261.9 413.6,262.3 413.9,262.8 414.1,262.1 414.4,261.4 414.7,263.1 414.9,263.0 415.2,262.0 415.4,261.5 415.7,263.1 416.0,262.6 416.2,261.5 416.5,261.9 416.7,261.6 417.0,263.0 417.3,261.8 417.6,263.3 417.9,262.9 418.2,261.5 418.5,262.8 418.8,262.2 419.1,262.9 419.4,263.1 419.7,261.9 420.0,261.6 420.3,263.3 420.6,262.2 420.9,263.3 421.2,262.8 421.5,262.9 421.8,263.1 422.0,262.7 422.3,262.3 422.6,261.5 422.9,262.8 423.2,262.3 423.5,262.4 423.7,263.3 424.0,261.6 424.3,262.9 424.5,261.5" fill="none" stroke="none" marker-start="url(#m-orange)" marker-mid="url(#m-orange)" marker-end="url(#m-orange)"/>
</g>
<g>
<polyline clip-path="url(#plotclip)" points="47.9,40.5 85.6,58.9 107.8,74.5 123.4,88.1 135.6,100.2 145.5,111.0 154.0,120.8 161.2,129.6 167.7,137.5 173.4,144.7 178.6,151.3 183.3,158.5 187.7,166.3 191.7,173.5 195.5,179.7 199.0,184.9 202.3,189.8 205.4,194.7 208.4,199.3 211.2,203.7 213.9,207.9 216.4,211.7 218.8,215.2 221.1,218.7 223.4,221.7 225.5,224.6 227.6,227.2 229.5,229.7 231.5,231.8 233.3,233.8 235.1,235.3 236.8,237.1 238.5,238.5 240.1,239.7 241.7,241.2 243.2,242.4 244.7,243.1 246.2,244.4 247.6,245.6 249.0,246.6 250.3,247.7 251.6,249.1 252.9,250.2 254.2,252.0 255.4,252.8 256.6,253.3 257.8,254.6 258.9,255.8 260.1,256.5 261.2,256.9 262.2,257.3 263.3,257.8 264.3,260.1 265.4,260.1 266.4,259.2 267.3,260.7 268.3,261.5 269.2,260.9 270.2,260.2 271.1,261.1 272.0,261.1 272.9,260.7 273.8,261.5 274.6,260.5 275.5,262.4 276.3,261.8 277.1,261.9 277.9,262.5 278.7,262.0 279.5,261.2 280.3,261.2 281.0,261.0 281.8,260.8 282.5,262.4 283.3,262.5 284.0,261.4 284.7,261.2 285.4,262.2 286.1,262.6 286.8,262.8 287.5,261.3 288.1,262.5 288.8,262.6 289.4,262.5 290.1,261.7 290.7,261.4 291.4,262.7 292.0,261.7 292.6,261.8 293.2,262.2 293.8,261.8 294.4,262.8 295.0,261.6 295.6,261.2 296.2,262.3 296.7,262.4 297.3,262.8 297.8,262.6 298.4,263.0 298.9,263.1 299.5,262.2 300.0,262.2 300.6,261.5 301.1,261.8 301.6,262.4 302.1,261.3 302.6,262.6 303.1,261.5 303.6,262.1 304.1,263.2 304.6,261.4 305.1,261.3 305.6,262.1 306.1,261.6 306.6,262.7 307.0,261.2 307.5,262.9 308.0,263.0 308.4,262.8 308.9,262.1 309.3,261.8 309.8,262.6 310.2,262.3 310.7,262.1 311.1,261.9 311.6,262.1 312.0,262.6 312.4,262.9 312.8,263.1 313.3,261.6 313.7,261.8 314.1,262.1 314.5,262.4 314.9,262.0 315.3,261.6 315.7,261.4 316.1,261.9 316.5,262.2 316.9,263.2 317.3,263.1 317.7,263.0 318.1,263.2 318.5,263.2 318.8,262.5 319.2,262.9 319.6,261.4 320.0,262.6 320.3,262.5 320.7,261.9 321.1,262.4 321.4,263.2 321.8,262.2 322.1,262.6 322.5,261.9 322.8,261.9 323.2,263.1 323.5,261.3 323.9,261.6 324.2,262.6 324.6,262.2 324.9,261.4 325.3,262.6 325.6,262.0 325.9,262.4 326.3,262.1 326.6,262.3 326.9,262.4 327.2,262.1 327.6,261.5 327.9,261.6 328.2,263.1 328.5,262.4 328.8,261.5 329.2,263.0 329.5,261.8 329.8,261.4 330.1,262.3 330.4,261.8 330.7,262.3 331.0,262.4 331.3,261.7 331.6,262.4 331.9,261.5 332.2,262.3 332.5,262.5 332.8,261.4 333.1,262.1 333.4,261.4 333.7,262.2 333.9,263.0 334.2,262.4 334.5,262.7 334.8,262.8 335.1,261.5 335.4,263.3 335.6,262.7 335.9,261.5 336.2,263.0 336.5,262.1 336.7,261.6 337.0,263.2 337.3,262.4 337.6,262.8 337.8,261.5 338.1,262.8 338.4,261.4 338.6,261.7 338.9,262.0 339.1,261.3 339.4,262.5 339.7,261.7 339.9,261.9 340.2,262.7 340.4,262.1 340.7,263.1 340.9,262.5 341.2,263.0 341.4,262.4 341.9,263.1 342.4,263.0 342.9,261.6 343.4,262.8 343.9,262.0 344.4,262.8 344.8,262.7 345.3,263.0 345.8,261.5 346.2,262.0 346.7,262.8 347.1,263.2 347.6,262.7 348.0,261.3 348.5,262.5 348.9,261.5 349.3,262.4 349.8,262.9 350.2,261.5 350.6,263.2 351.0,262.6 351.5,261.8 351.9,261.7 352.3,262.2 352.7,263.0 353.1,262.5 353.5,261.5 353.9,261.3 354.3,261.5 354.7,262.9 355.1,261.6 355.5,262.4 355.9,261.9 356.2,262.7 356.6,262.0 357.0,261.6 357.4,263.1 357.8,262.4 358.1,262.7 358.5,262.9 358.9,263.2 359.2,261.3 359.6,262.0 359.9,261.6 360.3,262.3 360.6,263.1 361.0,262.9 361.3,261.3 361.7,261.6 362.0,263.0 362.4,262.7 362.7,262.1 363.0,262.2 363.4,261.6 363.7,263.0 364.0,262.1 364.4,263.1 364.7,262.5 365.0,261.4 365.4,261.9 365.7,261.7 366.0,263.1 366.3,262.5 366.6,261.4 366.9,261.6 367.3,262.0 367.6,262.2 367.9,262.5 368.2,262.1 368.5,262.0 368.8,261.3 369.1,262.5 369.4,262.0 369.7,261.3 370.0,262.2 370.3,263.3 370.6,261.4 370.9,261.6 371.2,262.7 371.5,261.8 371.7,261.8 372.0,262.3 372.3,261.8 372.6,262.4 372.9,262.4 373.2,263.2 373.4,263.3 373.7,261.3 374.0,262.4 374.3,262.9 374.5,263.1 374.8,262.9 375.1,262.6 375.4,262.6 375.6,262.0 375.9,261.9 376.2,262.9 376.4,263.1 376.7,263.2 376.9,262.7 377.2,261.9 377.5,262.8 377.7,262.8 378.0,262.3 378.2,262.6 378.5,262.0 378.7,262.4 379.0,262.1 379.2,261.4 379.6,262.0 380.0,261.9 380.4,263.3 380.7,262.3 381.1,262.0 381.4,261.8 381.8,261.8 382.2,262.0 382.5,261.6 382.9,261.3 383.2,263.1 383.6,262.2 383.9,262.2 384.3,262.4 384.6,261.9 384.9,261.6 385.3,261.4 385.6,261.9 385.9,261.9 386.3,262.8 386.6,262.4 386.9,263.2 387.2,262.0 387.6,263.2 387.9,262.5 388.2,261.4 388.5,261.6 388.8,262.5 389.2,263.3 389.5,262.0 389.8,262.9 390.1,262.2 390.4,263.1 390.7,261.4 391.0,262.3 391.3,263.1 391.6,261.8 391.9,261.8 392.2,261.3 392.5,261.6 392.8,261.8 393.1,262.7 393.4,261.7 393.7,262.1 393.9,261.7 394.2,262.5 394.5,263.1 394.8,262.6 395.1,261.7 395.4,262.8 395.6,263.3 395.9,262.5 396.2,261.4 396.5,262.9 396.7,263.1 397.0,262.0 397.3,261.6 397.5,261.7 397.8,262.4 398.1,263.1 398.3,262.6 398.6,263.2 398.9,261.7 399.1,262.0 399.4,262.8 399.7,262.6 399.9,262.1 400.2,262.7 400.4,262.0 400.7,261.4 400.9,262.1 401.2,261.4 401.4,262.6 401.8,262.0 402.1,262.3 402.4,262.5 402.7,261.8 403.1,262.2 403.4,261.3 403.7,263.2 404.0,262.4 404.3,263.3 404.7,261.4 405.0,262.5 405.3,262.8 405.6,262.0 405.9,261.5 406.2,261.6 406.5,261.6 406.8,262.9 407.1,261.5 407.4,263.0 407.7,262.2 408.0,262.4 408.3,262.5 408.6,262.4 408.9,262.6 409.2,262.5 409.5,262.0 409.8,262.8 410.0,261.8 410.3,262.7 410.6,262.9 410.9,262.9 411.2,261.9 411.4,262.9 411.7,263.3 412.0,262.2 412.3,261.9 412.5,262.4 412.8,263.2 413.1,261.6 413.3,261.3 413.6,262.3 413.9,262.6 414.1,262.9 414.4,262.0 414.7,263.3 414.9,261.7 415.2,262.8 415.4,261.5 415.7,261.3 416.0,261.6 416.2,261.4 416.5,262.3 416.7,262.4 417.0,261.7 417.3,263.2 417.6,262.0 417.9,261.6 418.2,261.6 418.5,262.8 418.8,263.2 419.1,261.6 419.4,261.3 419.7,262.9 420.0,261.8 420.3,263.3 420.6,262.3 420.9,262.6 421.2,262.0 421.5,262.9 421.8,262.2 422.0,261.9 422.3,263.1 422.6,261.5 422.9,262.8 423.2,261.4 423.5,262.6 423.7,262.1 424.0,263.1 424.3,261.4 424.5,262.4" fill="none" stroke="#bc8f8f" stroke-width="0.9" stroke-linejoin="round"/>
<polyline points="85.6,58.9 107.8,74.5 123.4,88.1 135.6,100.2 145.5,111.0 154.0,120.8 161.2,129.6 167.7,137.5 173.4,144.7 178.6,151.3 183.3,158.5 187.7,166.3 191.7,173.5 195.5,179.7 199.0,184.9 202.3,189.8 205.4,194.7 208.4,199.3 211.2,203.7 213.9,207.9 216.4,211.7 218.8,215.2 221.1,218.7 223.4,221.7 225.5,224.6 227.6,227.2 229.5,229.7 231.5,231.8 233.3,233.8 235.1,235.3 236.8,237.1 238.5,238.5 240.1,239.7 241.7,241.2 243.2,242.4 244.7,243.1 246.2,244.4 247.6,245.6 249.0,246.6 250.3,247.7 251.6,249.1 252.9,250.2 254.2,252.0 255.4,252.8 256.6,253.3 257.8,254.6 258.9,255.8 260.1,256.5 261.2,256.9 262.2,257.3 263.3,257.8 264.3,260.1 265.4,260.1 266.4,259.2 267.3,260.7 268.3,261.5 269.2,260.9 270.2,260.2 271.1,261.1 272.0,261.1 272.9,260.7 273.8,261.5 274.6,260.5 275.5,262.4 276.3,261.8 277.1,261.9 277.9,262.5 278.7,262.0 279.5,261.2 280.3,261.2 281.0,261.0 281.8,260.8 282.5,262.4 283.3,262.5 284.0,261.4 284.7,261.2 285.4,262.2 286.1,262.6 286.8,262.8 287.5,261.3 288.1,262.5 288.8,262.6 289.4,262.5 290.1,261.7 290.7,261.4 291.4,262.7 292.0,261.7 292.6,261.8 293.2,262.2 293.8,261.8 294.4,262.8 295.0,261.6 295.6,261.2 296.2,262.3 296.7,262.4 297.3,262.8 297.8,262.6 298.4,263.0 298.9,263.1 299.5,262.2 300.0,262.2 300.6,261.5 301.1,261.8 301.6,262.4 302.1,261.3 302.6,262.6 303.1,261.5 303.6,262.1 304.1,263.2 304.6,261.4 305.1,261.3 305.6,262.1 306.1,261.6 306.6,262.7 307.0,261.2 307.5,262.9 308.0,263.0 308.4,262.8 308.9,262.1 309.3,261.8 309.8,262.6 310.2,262.3 310.7,262.1 311.1,261.9 311.6,262.1 312.0,262.6 312.4,262.9 312.8,263.1 313.3,261.6 313.7,261.8 314.1,262.1 314.5,262.4 314.9,262.0 315.3,261.6 315.7,261.4 316.1,261.9 316.5,262.2 316.9,263.2 317.3,263.1 317.7,263.0 318.1,263.2 318.5,263.2 318.8,262.5 319.2,262.9 319.6,261.4 320.0,262.6 320.3,262.5 320.7,261.9 321.1,262.4 321.4,263.2 321.8,262.2 322.1,262.6 322.5,261.9 322.8,261.9 323.2,263.1 323.5,261.3 323.9,261.6 324.2,262.6 324.6,262.2 324.9,261.4 325.3,262.6 325.6,262.0 325.9,262.4 326.3,262.1 326.6,262.3 326.9,262.4 327.2,262.1 327.6,261.5 327.9,261.6 328.2,263.1 328.5,262.4 328.8,261.5 329.2,263.0 329.5,261.8 329.8,261.4 330.1,262.3 330.4,261.8 330.7,262.3 331.0,262.4 331.3,261.7 331.6,262.4 331.9,261.5 332.2,262.3 332.5,262.5 332.8,261.4 333.1,262.1 333.4,261.4 333.7,262.2 333.9,263.0 334.2,262.4 334.5,262.7 334.8,262.8 335.1,261.5 335.4,263.3 335.6,262.7 335.9,261.5 336.2,263.0 336.5,262.1 336.7,261.6 337.0,263.2 337.3,262.4 337.6,262.8 337.8,261.5 338.1,262.8 338.4,261.4 338.6,261.7 338.9,262.0 339.1,261.3 339.4,262.5 339.7,261.7 339.9,261.9 340.2,262.7 340.4,262.1 340.7,263.1 340.9,262.5 341.2,263.0 341.4,262.4 341.9,263.1 342.4,263.0 342.9,261.6 343.4,262.8 343.9,262.0 344.4,262.8 344.8,262.7 345.3,263.0 345.8,261.5 346.2,262.0 346.7,262.8 347.1,263.2 347.6,262.7 348.0,261.3 348.5,262.5 348.9,261.5 349.3,262.4 349.8,262.9 350.2,261.5 350.6,263.2 351.0,262.6 351.5,261.8 351.9,261.7 352.3,262.2 352.7,263.0 353.1,262.5 353.5,261.5 353.9,261.3 354.3,261.5 354.7,262.9 355.1,261.6 355.5,262.4 355.9,261.9 356.2,262.7 356.6,262.0 357.0,261.6 357.4,263.1 357.8,262.4 358.1,262.7 358.5,262.9 358.9,263.2 359.2,261.3 359.6,262.0 359.9,261.6 360.3,262.3 360.6,263.1 361.0,262.9 361.3,261.3 361.7,261.6 362.0,263.0 362.4,262.7 362.7,262.1 363.0,262.2 363.4,261.6 363.7,263.0 364.0,262.1 364.4,263.1 364.7,262.5 365.0,261.4 365.4,261.9 365.7,261.7 366.0,263.1 366.3,262.5 366.6,261.4 366.9,261.6 367.3,262.0 367.6,262.2 367.9,262.5 368.2,262.1 368.5,262.0 368.8,261.3 369.1,262.5 369.4,262.0 369.7,261.3 370.0,262.2 370.3,263.3 370.6,261.4 370.9,261.6 371.2,262.7 371.5,261.8 371.7,261.8 372.0,262.3 372.3,261.8 372.6,262.4 372.9,262.4 373.2,263.2 373.4,263.3 373.7,261.3 374.0,262.4 374.3,262.9 374.5,263.1 374.8,262.9 375.1,262.6 375.4,262.6 375.6,262.0 375.9,261.9 376.2,262.9 376.4,263.1 376.7,263.2 376.9,262.7 377.2,261.9 377.5,262.8 377.7,262.8 378.0,262.3 378.2,262.6 378.5,262.0 378.7,262.4 379.0,262.1 379.2,261.4 379.6,262.0 380.0,261.9 380.4,263.3 380.7,262.3 381.1,262.0 381.4,261.8 381.8,261.8 382.2,262.0 382.5,261.6 382.9,261.3 383.2,263.1 383.6,262.2 383.9,262.2 384.3,262.4 384.6,261.9 384.9,261.6 385.3,261.4 385.6,261.9 385.9,261.9 386.3,262.8 386.6,262.4 386.9,263.2 387.2,262.0 387.6,263.2 387.9,262.5 388.2,261.4 388.5,261.6 388.8,262.5 389.2,263.3 389.5,262.0 389.8,262.9 390.1,262.2 390.4,263.1 390.7,261.4 391.0,262.3 391.3,263.1 391.6,261.8 391.9,261.8 392.2,261.3 392.5,261.6 392.8,261.8 393.1,262.7 393.4,261.7 393.7,262.1 393.9,261.7 394.2,262.5 394.5,263.1 394.8,262.6 395.1,261.7 395.4,262.8 395.6,263.3 395.9,262.5 396.2,261.4 396.5,262.9 396.7,263.1 397.0,262.0 397.3,261.6 397.5,261.7 397.8,262.4 398.1,263.1 398.3,262.6 398.6,263.2 398.9,261.7 399.1,262.0 399.4,262.8 399.7,262.6 399.9,262.1 400.2,262.7 400.4,262.0 400.7,261.4 400.9,262.1 401.2,261.4 401.4,262.6 401.8,262.0 402.1,262.3 402.4,262.5 402.7,261.8 403.1,262.2 403.4,261.3 403.7,263.2 404.0,262.4 404.3,263.3 404.7,261.4 405.0,262.5 405.3,262.8 405.6,262.0 405.9,261.5 406.2,261.6 406.5,261.6 406.8,262.9 407.1,261.5 407.4,263.0 407.7,262.2 408.0,262.4 408.3,262.5 408.6,262.4 408.9,262.6 409.2,262.5 409.5,262.0 409.8,262.8 410.0,261.8 410.3,262.7 410.6,262.9 410.9,262.9 411.2,261.9 411.4,262.9 411.7,263.3 412.0,262.2 412.3,261.9 412.5,262.4 412.8,263.2 413.1,261.6 413.3,261.3 413.6,262.3 413.9,262.6 414.1,262.9 414.4,262.0 414.7,263.3 414.9,261.7 415.2,262.8 415.4,261.5 415.7,261.3 416.0,261.6 416.2,261.4 416.5,262.3 416.7,262.4 417.0,261.7 417.3,263.2 417.6,262.0 417.9,261.6 418.2,261.6 418.5,262.8 418.8,263.2 419.1,261.6 419.4,261.3 419.7,262.9 420.0,261.8 420.3,263.3 420.6,262.3 420.9,262.6 421.2,262.0 421.5,262.9 421.8,262.2 422.0,261.9 422.3,263.1 422.6,261.5 422.9,262.8 423.2,261.4 423.5,262.6 423.7,262.1 424.0,263.1 424.3,261.4 424.5,262.4" fill="none" stroke="none" marker-start="url(#m-brown)" marker-mid="url(#m-brown)" marker-end="url(#m-brown)"/>
</g>
<g>
<polyline clip-path="url(#plotclip)" points="47.9,42.3 85.6,63.4 107.8,82.8 123.4,99.3 135.6,113.6 145.5,126.3 154.0,137.7 161.2,148.4 167.7,158.3 173.4,167.9 178.6,177.2 183.3,185.4 187.7,192.3 191.7,198.2 195.5,202.5 199.0,206.5 202.3,210.3 205.4,214.8 208.4,219.5 211.2,224.0 213.9,228.5 216.4,232.5 218.8,235.8 221.1,238.7 223.4,241.2 225.5,243.6 227.6,244.8 229.5,246.9 231.5,248.3 233.3,249.5 235.1,250.9 236.8,252.5 238.5,252.6 240.1,254.6 241.7,254.7 243.2,256.1 244.7,257.0 246.2,256.6 247.6,258.3 249.0,259.1 250.3,258.4 251.6,258.3 252.9,258.9 254.2,260.9 255.4,259.4 256.6,261.4 257.8,260.1 258.9,261.5 260.1,260.4 261.2,260.7 262.2,261.9 263.3,260.8 264.3,261.4 265.4,262.7 266.4,262.4 267.3,262.8 268.3,263.0 269.2,261.1 270.2,261.6 271.1,262.7 272.0,262.5 272.9,261.2 273.8,262.2 274.6,261.6 275.5,262.0 276.3,261.4 277.1,261.2 277.9,263.2 278.7,261.8 279.5,263.0 280.3,261.4 281.0,262.2 281.8,261.5 282.5,262.1 283.3,261.5 284.0,262.6 284.7,261.5 285.4,262.7 286.1,262.2 286.8,261.4 287.5,261.9 288.1,262.2 288.8,263.1 289.4,261.9 290.1,261.6 290.7,263.2 291.4,263.0 292.0,262.7 292.6,261.8 293.2,261.6 293.8,261.7 294.4,261.3 295.0,261.3 295.6,262.2 296.2,262.0 296.7,262.3 297.3,262.0 297.8,261.2 298.4,262.6 298.9,262.6 299.5,262.3 300.0,262.3 300.6,262.6 301.1,263.2 301.6,263.0 302.1,262.7 302.6,262.0 303.1,261.9 303.6,262.1 304.1,263.2 304.6,262.0 305.1,262.0 305.6,262.1 306.1,261.5 306.6,263.3 307.0,261.2 307.5,262.5 308.0,263.1 308.4,261.8 308.9,262.5 309.3,262.0 309.8,261.7 310.2,261.6 310.7,261.5 311.1,263.0 311.6,262.9 312.0,263.1 312.4,261.3 312.8,262.7 313.3,261.9 313.7,262.6 314.1,262.4 314.5,261.9 314.9,263.2 315.3,261.2 315.7,262.8 316.1,263.0 316.5,262.3 316.9,262.5 317.3,263.3 317.7,261.7 318.1,262.5 318.5,262.8 318.8,262.0 319.2,262.7 319.6,262.1 320.0,262.3 320.3,262.5 320.7,262.7 321.1,261.9 321.4,262.6 321.8,262.4 322.1,261.7 322.5,262.5 322.8,261.8 323.2,263.1 323.5,262.2 323.9,262.7 324.2,262.3 324.6,262.2 324.9,261.7 325.3,261.6 325.6,263.2 325.9,262.4 326.3,262.3 326.6,262.4 326.9,262.9 327.2,261.8 327.6,261.6 327.9,263.0 328.2,262.2 328.5,262.6 328.8,263.0 329.2,263.1 329.5,263.1 329.8,261.4 330.1,262.1 330.4,263.0 330.7,263.0 331.0,261.5 331.3,261.6 331.6,261.8 331.9,261.5 332.2,262.0 332.5,262.9 332.8,262.3 333.1,262.2 333.4,261.5 333.7,262.1 333.9,263.3 334.2,262.7 334.5,262.2 334.8,262.3 335.1,262.9 335.4,262.8 335.6,261.6 335.9,262.7 336.2,262.0 336.5,262.3 336.7,261.8 337.0,262.0 337.3,262.0 337.6,262.1 337.8,261.3 338.1,261.7 338.4,262.5 338.6,261.4 338.9,261.6 339.1,262.8 339.4,261.8 339.7,261.9 339.9,261.8 340.2,263.0 340.4,261.5 340.7,262.6 340.9,263.0 341.2,261.7 341.4,262.2 341.9,262.9 342.4,262.6 342.9,262.0 343.4,261.4 343.9,262.2 344.4,262.0 344.8,262.7 345.3,261.9 345.8,262.1 346.2,262.6 346.7,263.0 347.1,262.0 347.6,262.1 348.0,262.5 348.5,263.2 348.9,261.7 349.3,263.3 349.8,262.7 350.2,262.0 350.6,262.7 351.0,262.0 351.5,261.4 351.9,262.8 352.3,262.1 352.7,262.4 353.1,262.3 353.5,263.1 353.9,262.8 354.3,261.3 354.7,262.5 355.1,262.2 355.5,262.2 355.9,263.0 356.2,262.1 356.6,262.3 357.0,263.1 357.4,262.2 357.8,262.3 358.1,262.3 358.5,263.0 358.9,262.7 359.2,262.8 359.6,262.1 359.9,261.4 360.3,262.7 360.6,262.4 361.0,262.9 361.3,262.9 361.7,261.5 362.0,261.7 362.4,261.4 362.7,263.0 363.0,261.5 363.4,261.5 363.7,262.8 364.0,262.4 364.4,261.4 364.7,262.7 365.0,262.7 365.4,262.3 365.7,261.4 366.0,262.7 366.3,262.1 366.6,262.5 366.9,263.3 367.3,263.0 367.6,263.1 367.9,261.6 368.2,262.0 368.5,262.3 368.8,261.3 369.1,263.3 369.4,261.8 369.7,261.8 370.0,261.9 370.3,261.8 370.6,263.0 370.9,262.4 371.2,262.3 371.5,262.1 371.7,261.4 372.0,261.9 372.3,263.1 372.6,262.9 372.9,263.0 373.2,261.8 373.4,261.7 373.7,261.4 374.0,262.4 374.3,262.1 374.5,262.2 374.8,262.3 375.1,262.5 375.4,262.0 375.6,262.9 375.9,261.7 376.2,263.2 376.4,262.4 376.7,261.4 376.9,261.9 377.2,262.4 377.5,262.1 377.7,262.4 378.0,261.9 378.2,261.8 378.5,262.9 378.7,261.9 379.0,262.7 379.2,262.9 379.6,262.5 380.0,262.2 380.4,263.2 380.7,262.2 381.1,263.1 381.4,261.4 381.8,262.2 382.2,262.6 382.5,261.4 382.9,263.1 383.2,261.4 383.6,262.5 383.9,261.7 384.3,263.2 384.6,262.4 384.9,262.9 385.3,262.3 385.6,262.7 385.9,262.7 386.3,261.9 386.6,261.7 386.9,263.0 387.2,261.6 387.6,263.2 387.9,261.7 388.2,261.5 388.5,261.5 388.8,262.9 389.2,263.2 389.5,262.1 389.8,262.6 390.1,261.8 390.4,263.1 390.7,262.7 391.0,261.6 391.3,261.4 391.6,262.7 391.9,261.4 392.2,263.0 392.5,261.9 392.8,261.8 393.1,262.5 393.4,261.9 393.7,262.4 393.9,261.6 394.2,263.2 394.5,261.9 394.8,263.0 395.1,261.6 395.4,262.9 395.6,263.3 395.9,262.1 396.2,261.3 396.5,262.1 396.7,262.6 397.0,261.7 397.3,262.4 397.5,261.5 397.8,262.2 398.1,262.8 398.3,262.2 398.6,262.7 398.9,261.5 399.1,263.0 399.4,261.5 399.7,263.2 399.9,263.3 400.2,263.2 400.4,262.4 400.7,261.9 400.9,262.0 401.2,262.8 401.4,262.3 401.8,263.2 402.1,261.5 402.4,262.3 402.7,263.1 403.1,262.5 403.4,262.4 403.7,261.5 404.0,261.6 404.3,261.8 404.7,263.1 405.0,263.0 405.3,261.7 405.6,263.2 405.9,261.3 406.2,262.5 406.5,263.3 406.8,262.0 407.1,263.2 407.4,262.6 407.7,261.4 408.0,262.0 408.3,262.2 408.6,261.8 408.9,262.8 409.2,261.6 409.5,262.9 409.8,261.9 410.0,261.4 410.3,262.4 410.6,261.5 410.9,262.4 411.2,262.9 411.4,262.5 411.7,262.2 412.0,261.3 412.3,262.3 412.5,261.5 412.8,262.6 413.1,261.6 413.3,262.5 413.6,262.0 413.9,262.1 414.1,262.6 414.4,261.6 414.7,261.6 414.9,263.2 415.2,262.0 415.4,263.0 415.7,263.1 416.0,262.3 416.2,261.6 416.5,261.5 416.7,263.1 417.0,261.5 417.3,262.3 417.6,262.4 417.9,261.5 418.2,262.2 418.5,261.6 418.8,262.4 419.1,262.3 419.4,262.0 419.7,261.7 420.0,262.1 420.3,261.7 420.6,261.5 420.9,261.8 421.2,263.1 421.5,262.3 421.8,263.1 422.0,261.3 422.3,263.2 422.6,262.3 422.9,262.9 423.2,262.5 423.5,262.7 423.7,261.8 424.0,262.8 424.3,261.6 424.5,261.8" fill="none" stroke="#dcdcdc" stroke-width="0.9" stroke-linejoin="round"/>
<polyline points="85.6,63.4 107.8,82.8 123.4,99.3 135.6,113.6 145.5,126.3 154.0,137.7 161.2,148.4 167.7,158.3 173.4,167.9 178.6,177.2 183.3,185.4 187.7,192.3 191.7,198.2 195.5,202.5 199.0,206.5 202.3,210.3 205.4,214.8 208.4,219.5 211.2,224.0 213.9,228.5 216.4,232.5 218.8,235.8 221.1,238.7 223.4,241.2 225.5,243.6 227.6,244.8 229.5,246.9 231.5,248.3 233.3,249.5 235.1,250.9 236.8,252.5 238.5,252.6 240.1,254.6 241.7,254.7 243.2,256.1 244.7,257.0 246.2,256.6 247.6,258.3 249.0,259.1 250.3,258.4 251.6,258.3 252.9,258.9 254.2,260.9 255.4,259.4 256.6,261.4 257.8,260.1 258.9,261.5 260.1,260.4 261.2,260.7 262.2,261.9 263.3,260.8 264.3,261.4 265.4,262.7 266.4,262.4 267.3,262.8 268.3,263.0 269.2,261.1 270.2,261.6 271.1,262.7 272.0,262.5 272.9,261.2 273.8,262.2 274.6,261.6 275.5,262.0 276.3,261.4 277.1,261.2 277.9,263.2 278.7,261.8 279.5,263.0 280.3,261.4 281.0,262.2 281.8,261.5 282.5,262.1 283.3,261.5 284.0,262.6 284.7,261.5 285.4,262.7 286.1,262.2 286.8,261.4 287.5,261.9 288.1,262.2 288.8,263.1 289.4,261.9 290.1,261.6 290.7,263.2 291.4,263.0 292.0,262.7 292.6,261.8 293.2,261.6 293.8,261.7 294.4,261.3 295.0,261.3 295.6,262.2 296.2,262.0 296.7,262.3 297.3,262.0 297.8,261.2 298.4,262.6 298.9,262.6 299.5,262.3 300.0,262.3 300.6,262.6 301.1,263.2 301.6,263.0 302.1,262.7 302.6,262.0 303.1,261.9 303.6,262.1 304.1,263.2 304.6,262.0 305.1,262.0 305.6,262.1 306.1,261.5 306.6,263.3 307.0,261.2 307.5,262.5 308.0,263.1 308.4,261.8 308.9,262.5 309.3,262.0 309.8,261.7 310.2,261.6 310.7,261.5 311.1,263.0 311.6,262.9 312.0,263.1 312.4,261.3 312.8,262.7 313.3,261.9 313.7,262.6 314.1,262.4 314.5,261.9 314.9,263.2 315.3,261.2 315.7,262.8 316.1,263.0 316.5,262.3 316.9,262.5 317.3,263.3 317.7,261.7 318.1,262.5 318.5,262.8 318.8,262.0 319.2,262.7 319.6,262.1 320.0,262.3 320.3,262.5 320.7,262.7 321.1,261.9 321.4,262.6 321.8,262.4 322.1,261.7 322.5,262.5 322.8,261.8 323.2,263.1 323.5,262.2 323.9,262.7 324.2,262.3 324.6,262.2 324.9,261.7 325.3,261.6 325.6,263.2 325.9,262.4 326.3,262.3 326.6,262.4 326.9,262.9 327.2,261.8 327.6,261.6 327.9,263.0 328.2,262.2 328.5,262.6 328.8,263.0 329.2,263.1 329.5,263.1 329.8,261.4 330.1,262.1 330.4,263.0 330.7,263.0 331.0,261.5 331.3,261.6 331.6,261.8 331.9,261.5 332.2,262.0 332.5,262.9 332.8,262.3 333.1,262.2 333.4,261.5 333.7,262.1 333.9,263.3 334.2,262.7 334.5,262.2 334.8,262.3 335.1,262.9 335.4,262.8 335.6,261.6 335.9,262.7 336.2,262.0 336.5,262.3 336.7,261.8 337.0,262.0 337.3,262.0 337.6,262.1 337.8,261.3 338.1,261.7 338.4,262.5 338.6,261.4 338.9,261.6 339.1,262.8 339.4,261.8 339.7,261.9 339.9,261.8 340.2,263.0 340.4,261.5 340.7,262.6 340.9,263.0 341.2,261.7 341.4,262.2 341.9,262.9 342.4,262.6 342.9,262.0 343.4,261.4 343.9,262.2 344.4,262.0 344.8,262.7 345.3,261.9 345.8,262.1 346.2,262.6 346.7,263.0 347.1,262.0 347.6,262.1 348.0,262.5 348.5,263.2 348.9,261.7 349.3,263.3 349.8,262.7 350.2,262.0 350.6,262.7 351.0,262.0 351.5,261.4 351.9,262.8 352.3,262.1 352.7,262.4 353.1,262.3 353.5,263.1 353.9,262.8 354.3,261.3 354.7,262.5 355.1,262.2 355.5,262.2 355.9,263.0 356.2,262.1 356.6,262.3 357.0,263.1 357.4,262.2 357.8,262.3 358.1,262.3 358.5,263.0 358.9,262.7 359.2,262.8 359.6,262.1 359.9,261.4 360.3,262.7 360.6,262.4 361.0,262.9 361.3,262.9 361.7,261.5 362.0,261.7 362.4,261.4 362.7,263.0 363.0,261.5 363.4,261.5 363.7,262.8 364.0,262.4 364.4,261.4 364.7,262.7 365.0,262.7 365.4,262.3 365.7,261.4 366.0,262.7 366.3,262.1 366.6,262.5 366.9,263.3 367.3,263.0 367.6,263.1 367.9,261.6 368.2,262.0 368.5,262.3 368.8,261.3 369.1,263.3 369.4,261.8 369.7,261.8 370.0,261.9 370.3,261.8 370.6,263.0 370.9,262.4 371.2,262.3 371.5,262.1 371.7,261.4 372.0,261.9 372.3,263.1 372.6,262.9 372.9,263.0 373.2,261.8 373.4,261.7 373.7,261.4 374.0,262.4 374.3,262.1 374.5,262.2 374.8,262.3 375.1,262.5 375.4,262.0 375.6,262.9 375.9,261.7 376.2,263.2 376.4,262.4 376.7,261.4 376.9,261.9 377.2,262.4 377.5,262.1 377.7,262.4 378.0,261.9 378.2,261.8 378.5,262.9 378.7,261.9 379.0,262.7 379.2,262.9 379.6,262.5 380.0,262.2 380.4,263.2 380.7,262.2 381.1,263.1 381.4,261.4 381.8,262.2 382.2,262.6 382.5,261.4 382.9,263.1 383.2,261.4 383.6,262.5 383.9,261.7 384.3,263.2 384.6,262.4 384.9,262.9 385.3,262.3 385.6,262.7 385.9,262.7 386.3,261.9 386.6,261.7 386.9,263.0 387.2,261.6 387.6,263.2 387.9,261.7 388.2,261.5 388.5,261.5 388.8,262.9 389.2,263.2 389.5,262.1 389.8,262.6 390.1,261.8 390.4,263.1 390.7,262.7 391.0,261.6 391.3,261.4 391.6,262.7 391.9,261.4 392.2,263.0 392.5,261.9 392.8,261.8 393.1,262.5 393.4,261.9 393.7,262.4 393.9,261.6 394.2,263.2 394.5,261.9 394.8,263.0 395.1,261.6 395.4,262.9 395.6,263.3 395.9,262.1 396.2,261.3 396.5,262.1 396.7,262.6 397.0,261.7 397.3,262.4 397.5,261.5 397.8,262.2 398.1,262.8 398.3,262.2 398.6,262.7 398.9,261.5 399.1,263.0 399.4,261.5 399.7,263.2 399.9,263.3 400.2,263.2 400.4,262.4 400.7,261.9 400.9,262.0 401.2,262.8 401.4,262.3 401.8,263.2 402.1,261.5 402.4,262.3 402.7,263.1 403.1,262.5 403.4,262.4 403.7,261.5 404.0,261.6 404.3,261.8 404.7,263.1 405.0,263.0 405.3,261.7 405.6,263.2 405.9,261.3 406.2,262.5 406.5,263.3 406.8,262.0 407.1,263.2 407.4,262.6 407.7,261.4 408.0,262.0 408.3,262.2 408.6,261.8 408.9,262.8 409.2,261.6 409.5,262.9 409.8,261.9 410.0,261.4 410.3,262.4 410.6,261.5 410.9,262.4 411.2,262.9 411.4,262.5 411.7,262.2 412.0,261.3 412.3,262.3 412.5,261.5 412.8,262.6 413.1,261.6 413.3,262.5 413.6,262.0 413.9,262.1 414.1,262.6 414.4,261.6 414.7,261.6 414.9,263.2 415.2,262.0 415.4,263.0 415.7,263.1 416.0,262.3 416.2,261.6 416.5,261.5 416.7,263.1 417.0,261.5 417.3,262.3 417.6,262.4 417.9,261.5 418.2,262.2 418.5,261.6 418.8,262.4 419.1,262.3 419.4,262.0 419.7,261.7 420.0,262.1 420.3,261.7 420.6,261.5 420.9,261.8 421.2,263.1 421.5,262.3 421.8,263.1 422.0,261.3 422.3,263.2 422.6,262.3 422.9,262.9 423.2,262.5 423.5,262.7 423.7,261.8 424.0,262.8 424.3,261.6 424.5,261.8" fill="none" stroke="none" marker-start="url(#m-grey)" marker-mid="url(#m-grey)" marker-end="url(#m-grey)"/>
</g>
<g>
<polyline clip-path="url(#plotclip)" points="47.9,45.6 85.6,71.5 107.8,94.6 123.4,114.5 135.6,131.9 145.5,147.0 154.0,160.9 161.2,173.1 167.7,184.2 173.4,194.1 178.6,203.0 183.3,210.9 187.7,218.0 191.7,224.5 195.5,230.1 199.0,234.8 202.3,239.2 205.4,242.9 208.4,246.1 211.2,248.4 213.9,251.0 216.4,252.6 218.8,254.6 221.1,255.0 223.4,256.9 225.5,257.2 227.6,257.8 229.5,258.0 231.5,258.7 233.3,259.6 235.1,259.8 236.8,259.5 238.5,260.0 240.1,260.0 241.7,260.2 243.2,260.5 244.7,260.8 246.2,261.7 247.6,261.9 249.0,261.8 250.3,261.5 251.6,261.7 252.9,262.1 254.2,262.4 255.4,262.3 256.6,262.3 257.8,261.8 258.9,262.4 260.1,262.7 261.2,262.7 262.2,261.9 263.3,262.7 264.3,262.2 265.4,262.0 266.4,263.0 267.3,262.6 268.3,262.7 269.2,261.9 270.2,262.8 271.1,262.9 272.0,262.9 272.9,262.7 273.8,262.8 274.6,262.8 275.5,262.5 276.3,262.3 277.1,262.8 277.9,262.8 278.7,262.9 279.5,262.1 280.3,263.0 281.0,262.4 281.8,263.0 282.5,261.9 283.3,263.0 284.0,262.8 284.7,262.1 285.4,262.8 286.1,262.1 286.8,262.0 287.5,262.3 288.1,262.1 288.8,262.4 289.4,262.9 290.1,262.6 290.7,262.7 291.4,262.3 292.0,262.8 292.6,262.8 293.2,262.6 293.8,263.0 294.4,262.8 295.0,262.3 295.6,261.9 296.2,262.6 296.7,262.8 297.3,262.2 297.8,262.5 298.4,262.8 298.9,262.8 299.5,261.8 300.0,262.4 300.6,261.8 301.1,261.9 301.6,262.8 302.1,262.3 302.6,262.5 303.1,262.3 303.6,262.2 304.1,262.0 304.6,262.2 305.1,262.8 305.6,262.5 306.1,262.1 306.6,261.9 307.0,262.1 307.5,262.7 308.0,262.3 308.4,262.6 308.9,262.8 309.3,261.9 309.8,262.6 310.2,261.8 310.7,262.8 311.1,262.0 311.6,262.1 312.0,263.0 312.4,262.2 312.8,262.1 313.3,262.9 313.7,262.5 314.1,262.9 314.5,262.3 314.9,262.4 315.3,263.0 315.7,262.4 316.1,263.0 316.5,262.0 316.9,262.8 317.3,262.0 317.7,262.4 318.1,261.8 318.5,262.0 318.8,263.0 319.2,262.3 319.6,262.8 320.0,262.1 320.3,262.2 320.7,261.9 321.1,262.5 321.4,262.9 321.8,262.4 322.1,262.2 322.5,262.9 322.8,262.9 323.2,262.6 323.5,261.9 323.9,262.6 324.2,262.3 324.6,263.0 324.9,262.2 325.3,262.6 325.6,262.6 325.9,262.2 326.3,262.4 326.6,262.6 326.9,262.9 327.2,262.4 327.6,262.2 327.9,263.0 328.2,261.8 328.5,262.8 328.8,262.6 329.2,262.5 329.5,262.3 329.8,262.7 330.1,262.9 330.4,262.7 330.7,262.7 331.0,261.8 331.3,262.2 331.6,261.9 331.9,263.0 332.2,262.9 332.5,262.0 332.8,262.5 333.1,262.5 333.4,261.8 333.7,262.3 333.9,262.7 334.2,262.6 334.5,262.1 334.8,262.7 335.1,262.1 335.4,262.5 335.6,262.3 335.9,263.0 336.2,262.6 336.5,262.8 336.7,262.6 337.0,262.3 337.3,263.0 337.6,262.7 337.8,262.6 338.1,262.1 338.4,262.0 338.6,262.5 338.9,262.8 339.1,262.8 339.4,262.2 339.7,261.9 339.9,262.4 340.2,262.9 340.4,262.0 340.7,262.7 340.9,262.0 341.2,262.2 341.4,261.8 341.9,262.1 342.4,262.3 342.9,263.0 343.4,263.0 343.9,262.0 344.4,262.2 344.8,263.0 345.3,262.0 345.8,262.2 346.2,262.3 346.7,261.9 347.1,262.1 347.6,262.3 348.0,262.3 348.5,263.0 348.9,262.1 349.3,262.0 349.8,262.9 350.2,262.3 350.6,262.8 351.0,262.6 351.5,262.7 351.9,262.2 352.3,262.0 352.7,262.7 353.1,262.4 353.5,262.5 353.9,262.6 354.3,262.7 354.7,262.1 355.1,262.2 355.5,262.9 355.9,262.4 356.2,262.1 356.6,262.6 357.0,262.1 357.4,262.7 357.8,261.8 358.1,262.8 358.5,262.5 358.9,262.2 359.2,263.0 359.6,262.1 359.9,262.1 360.3,261.9 360.6,262.5 361.0,262.7 361.3,262.6 361.7,262.3 362.0,262.8 362.4,261.9 362.7,262.2 363.0,262.6 363.4,263.0 363.7,262.6 364.0,262.6 364.4,262.7 364.7,262.3 365.0,263.0 365.4,262.7 365.7,262.2 366.0,262.3 366.3,262.8 366.6,262.2 366.9,262.0 367.3,262.9 367.6,262.4 367.9,262.4 368.2,262.6 368.5,262.9 368.8,261.9 369.1,262.2 369.4,261.9 369.7,262.3 370.0,262.4 370.3,262.8 370.6,262.6 370.9,262.5 371.2,262.3 371.5,262.5 371.7,262.1 372.0,262.8 372.3,262.8 372.6,262.8 372.9,262.0 373.2,262.6 373.4,262.7 373.7,262.4 374.0,262.9 374.3,262.9 374.5,262.7 374.8,262.8 375.1,262.6 375.4,262.9 375.6,261.9 375.9,262.7 376.2,262.7 376.4,262.5 376.7,262.1 376.9,261.9 377.2,262.5 377.5,262.8 377.7,262.1 378.0,262.0 378.2,262.1 378.5,261.9 378.7,262.6 379.0,263.0 379.2,262.8 379.6,262.2 380.0,262.7 380.4,261.9 380.7,262.8 381.1,262.2 381.4,261.8 381.8,262.6 382.2,261.9 382.5,262.1 382.9,261.8 383.2,262.3 383.6,262.5 383.9,262.8 384.3,261.8 384.6,262.8 384.9,261.9 385.3,262.1 385.6,262.6 385.9,262.2 386.3,262.2 386.6,262.5 386.9,262.0 387.2,262.8 387.6,262.0 387.9,262.8 388.2,262.8 388.5,262.4 388.8,261.8 389.2,262.7 389.5,261.8 389.8,262.4 390.1,262.3 390.4,261.9 390.7,262.6 391.0,262.7 391.3,262.5 391.6,262.3 391.9,262.4 392.2,262.5 392.5,262.1 392.8,262.9 393.1,263.0 393.4,262.8 393.7,263.0 393.9,262.2 394.2,263.0 394.5,261.9 394.8,262.4 395.1,261.9 395.4,262.3 395.6,262.6 395.9,262.7 396.2,262.3 396.5,262.2 396.7,262.0 397.0,262.3 397.3,262.1 397.5,262.0 397.8,262.7 398.1,262.4 398.3,262.3 398.6,262.0 398.9,262.7 399.1,262.0 399.4,262.1 399.7,262.5 399.9,262.7 400.2,263.0 400.4,262.7 400.7,263.0 400.9,262.9 401.2,262.7 401.4,262.7 401.8,261.9 402.1,262.0 402.4,261.8 402.7,262.9 403.1,262.7 403.4,262.6 403.7,262.1 404.0,262.2 404.3,262.0 404.7,262.6 405.0,263.0 405.3,262.2 405.6,261.8 405.9,262.0 406.2,262.2 406.5,262.9 406.8,262.8 407.1,262.3 407.4,261.9 407.7,261.9 408.0,262.0 408.3,262.7 408.6,262.4 408.9,263.0 409.2,262.9 409.5,262.8 409.8,262.4 410.0,262.8 410.3,261.9 410.6,261.9 410.9,262.5 411.2,262.4 411.4,262.0 411.7,262.1 412.0,261.8 412.3,262.9 412.5,262.7 412.8,263.0 413.1,263.0 413.3,262.3 413.6,262.7 413.9,262.3 414.1,262.8 414.4,262.8 414.7,261.9 414.9,261.8 415.2,262.0 415.4,262.5 415.7,262.2 416.0,261.8 416.2,262.8 416.5,262.8 416.7,262.4 417.0,261.8 417.3,262.9 417.6,262.4 417.9,261.9 418.2,262.2 418.5,262.6 418.8,262.9 419.1,262.4 419.4,262.6 419.7,262.0 420.0,262.1 420.3,262.9 420.6,262.3 420.9,261.9 421.2,262.5 421.5,261.9 421.8,262.0 422.0,262.3 422.3,262.5 422.6,262.6 422.9,262.7 423.2,262.3 423.5,261.9 423.7,262.7 424.0,261.8 424.3,262.4 424.5,262.3" fill="none" stroke="#9400d3" stroke-width="0.9" stroke-linejoin="round"/>
<polyline points="85.6,71.5 107.8,94.6 123.4,114.5 135.6,131.9 145.5,147.0 154.0,160.9 161.2,173.1 167.7,184.2 173.4,194.1 178.6,203.0 183.3,210.9 187.7,218.0 191.7,224.5 195.5,230.1 199.0,234.8 202.3,239.2 205.4,242.9 208.4,246.1 211.2,248.4 213.9,251.0 216.4,252.6 218.8,254.6 221.1,255.0 223.4,256.9 225.5,257.2 227.6,257.8 229.5,258.0 231.5,258.7 233.3,259.6 235.1,259.8 236.8,259.5 238.5,260.0 240.1,260.0 241.7,260.2 243.2,260.5 244.7,260.8 246.2,261.7 247.6,261.9 249.0,261.8 250.3,261.5 251.6,261.7 252.9,262.1 254.2,262.4 255.4,262.3 256.6,262.3 257.8,261.8 258.9,262.4 260.1,262.7 261.2,262.7 262.2,261.9 263.3,262.7 264.3,262.2 265.4,262.0 266.4,263.0 267.3,262.6 268.3,262.7 269.2,261.9 270.2,262.8 271.1,262.9 272.0,262.9 272.9,262.7 273.8,262.8 274.6,262.8 275.5,262.5 276.3,262.3 277.1,262.8 277.9,262.8 278.7,262.9 279.5,262.1 280.3,263.0 281.0,262.4 281.8,263.0 282.5,261.9 283.3,263.0 284.0,262.8 284.7,262.1 285.4,262.8 286.1,262.1 286.8,262.0 287.5,262.3 288.1,262.1 288.8,262.4 289.4,262.9 290.1,262.6 290.7,262.7 291.4,262.3 292.0,262.8 292.6,262.8 293.2,262.6 293.8,263.0 294.4,262.8 295.0,262.3 295.6,261.9 296.2,262.6 296.7,262.8 297.3,262.2 297.8,262.5 298.4,262.8 298.9,262.8 299.5,261.8 300.0,262.4 300.6,261.8 301.1,261.9 301.6,262.8 302.1,262.3 302.6,262.5 303.1,262.3 303.6,262.2 304.1,262.0 304.6,262.2 305.1,262.8 305.6,262.5 306.1,262.1 306.6,261.9 307.0,262.1 307.5,262.7 308.0,262.3 308.4,262.6 308.9,262.8 309.3,261.9 309.8,262.6 310.2,261.8 310.7,262.8 311.1,262.0 311.6,262.1 312.0,263.0 312.4,262.2 312.8,262.1 313.3,262.9 313.7,262.5 314.1,262.9 314.5,262.3 314.9,262.4 315.3,263.0 315.7,262.4 316.1,263.0 316.5,262.0 316.9,262.8 317.3,262.0 317.7,262.4 318.1,261.8 318.5,262.0 318.8,263.0 319.2,262.3 319.6,262.8 320.0,262.1 320.3,262.2 320.7,261.9 321.1,262.5 321.4,262.9 321.8,262.4 322.1,262.2 322.5,262.9 322.8,262.9 323.2,262.6 323.5,261.9 323.9,262.6 324.2,262.3 324.6,263.0 324.9,262.2 325.3,262.6 325.6,262.6 325.9,262.2 326.3,262.4 326.6,262.6 326.9,262.9 327.2,262.4 327.6,262.2 327.9,263.0 328.2,261.8 328.5,262.8 328.8,262.6 329.2,262.5 329.5,262.3 329.8,262.7 330.1,262.9 330.4,262.7 330.7,262.7 331.0,261.8 331.3,262.2 331.6,261.9 331.9,263.0 332.2,262.9 332.5,262.0 332.8,262.5 333.1,262.5 333.4,261.8 333.7,262.3 333.9,262.7 334.2,262.6 334.5,262.1 334.8,262.7 335.1,262.1 335.4,262.5 335.6,262.3 335.9,263.0 336.2,262.6 336.5,262.8 336.7,262.6 337.0,262.3 337.3,263.0 337.6,262.7 337.8,262.6 338.1,262.1 338.4,262.0 338.6,262.5 338.9,262.8 339.1,262.8 339.4,262.2 339.7,261.9 339.9,262.4 340.2,262.9 340.4,262.0 340.7,262.7 340.9,262.0 341.2,262.2 341.4,261.8 341.9,262.1 342.4,262.3 342.9,263.0 343.4,263.0 343.9,262.0 344.4,262.2 344.8,263.0 345.3,262.0 345.8,262.2 346.2,262.3 346.7,261.9 347.1,262.1 347.6,262.3 348.0,262.3 348.5,263.0 348.9,262.1 349.3,262.0 349.8,262.9 350.2,262.3 350.6,262.8 351.0,262.6 351.5,262.7 351.9,262.2 352.3,262.0 352.7,262.7 353.1,262.4 353.5,262.5 353.9,262.6 354.3,262.7 354.7,262.1 355.1,262.2 355.5,262.9 355.9,262.4 356.2,262.1 356.6,262.6 357.0,262.1 357.4,262.7 357.8,261.8 358.1,262.8 358.5,262.5 358.9,262.2 359.2,263.0 359.6,262.1 359.9,262.1 360.3,261.9 360.6,262.5 361.0,262.7 361.3,262.6 361.7,262.3 362.0,262.8 362.4,261.9 362.7,262.2 363.0,262.6 363.4,263.0 363.7,262.6 364.0,262.6 364.4,262.7 364.7,262.3 365.0,263.0 365.4,262.7 365.7,262.2 366.0,262.3 366.3,262.8 366.6,262.2 366.9,262.0 367.3,262.9 367.6,262.4 367.9,262.4 368.2,262.6 368.5,262.9 368.8,261.9 369.1,262.2 369.4,261.9 369.7,262.3 370.0,262.4 370.3,262.8 370.6,262.6 370.9,262.5 371.2,262.3 371.5,262.5 371.7,262.1 372.0,262.8 372.3,262.8 372.6,262.8 372.9,262.0 373.2,262.6 373.4,262.7 373.7,262.4 374.0,262.9 374.3,262.9 374.5,262.7 374.8,262.8 375.1,262.6 375.4,262.9 375.6,261.9 375.9,262.7 376.2,262.7 376.4,262.5 376.7,262.1 376.9,261.9 377.2,262.5 377.5,262.8 377.7,262.1 378.0,262.0 378.2,262.1 378.5,261.9 378.7,262.6 379.0,263.0 379.2,262.8 379.6,262.2 380.0,262.7 380.4,261.9 380.7,262.8 381.1,262.2 381.4,261.8 381.8,262.6 382.2,261.9 382.5,262.1 382.9,261.8 383.2,262.3 383.6,262.5 383.9,262.8 384.3,261.8 384.6,262.8 384.9,261.9 385.3,262.1 385.6,262.6 385.9,262.2 386.3,262.2 386.6,262.5 386.9,262.0 387.2,262.8 387.6,262.0 387.9,262.8 388.2,262.8 388.5,262.4 388.8,261.8 389.2,262.7 389.5,261.8 389.8,262.4 390.1,262.3 390.4,261.9 390.7,262.6 391.0,262.7 391.3,262.5 391.6,262.3 391.9,262.4 392.2,262.5 392.5,262.1 392.8,262.9 393.1,263.0 393.4,262.8 393.7,263.0 393.9,262.2 394.2,263.0 394.5,261.9 394.8,262.4 395.1,261.9 395.4,262.3 395.6,262.6 395.9,262.7 396.2,262.3 396.5,262.2 396.7,262.0 397.0,262.3 397.3,262.1 397.5,262.0 397.8,262.7 398.1,262.4 398.3,262.3 398.6,262.0 398.9,262.7 399.1,262.0 399.4,262.1 399.7,262.5 399.9,262.7 400.2,263.0 400.4,262.7 400.7,263.0 400.9,262.9 401.2,262.7 401.4,262.7 401.8,261.9 402.1,262.0 402.4,261.8 402.7,262.9 403.1,262.7 403.4,262.6 403.7,262.1 404.0,262.2 404.3,262.0 404.7,262.6 405.0,263.0 405.3,262.2 405.6,261.8 405.9,262.0 406.2,262.2 406.5,262.9 406.8,262.8 407.1,262.3 407.4,261.9 407.7,261.9 408.0,262.0 408.3,262.7 408.6,262.4 408.9,263.0 409.2,262.9 409.5,262.8 409.8,262.4 410.0,262.8 410.3,261.9 410.6,261.9 410.9,262.5 411.2,262.4 411.4,262.0 411.7,262.1 412.0,261.8 412.3,262.9 412.5,262.7 412.8,263.0 413.1,263.0 413.3,262.3 413.6,262.7 413.9,262.3 414.1,262.8 414.4,262.8 414.7,261.9 414.9,261.8 415.2,262.0 415.4,262.5 415.7,262.2 416.0,261.8 416.2,262.8 416.5,262.8 416.7,262.4 417.0,261.8 417.3,262.9 417.6,262.4 417.9,261.9 418.2,262.2 418.5,262.6 418.8,262.9 419.1,262.4 419.4,262.6 419.7,262.0 420.0,262.1 420.3,262.9 420.6,262.3 420.9,261.9 421.2,262.5 421.5,261.9 421.8,262.0 422.0,262.3 422.3,262.5 422.6,262.6 422.9,262.7 423.2,262.3 423.5,261.9 423.7,262.7 424.0,261.8 424.3,262.4 424.5,262.3" fill="none" stroke="none" marker-start="url(#m-violet)" marker-mid="url(#m-violet)" marker-end="url(#m-violet)"/>
</g>
<g>
<rect x="50.20" y="0" width="375.10" height="1.4" fill="#a6a6a6"/>
<line x1="50.85" y1="0.6" x2="50.85" y2="263.84999999999997" stroke="#000000" stroke-width="1.08"/>
<line x1="424.65" y1="0.6" x2="424.65" y2="263.84999999999997" stroke="#000000" stroke-width="1.08"/>
<line x1="50.2" y1="263.2" x2="425.29999999999995" y2="263.2" stroke="#000000" stroke-width="1.08"/>
<path d="M85.64,263.2v-3.6M85.64,1.2v3.6M107.75,263.2v-3.6M107.75,1.2v3.6M123.44,263.2v-3.6M123.44,1.2v3.6M135.61,263.2v-3.6M135.61,1.2v3.6M145.55,263.2v-3.6M145.55,1.2v3.6M153.95,263.2v-3.6M153.95,1.2v3.6M161.23,263.2v-3.6M161.23,1.2v3.6M167.66,263.2v-3.6M167.66,1.2v3.6M173.40,263.2v-7.2M173.40,1.2v7.2M211.19,263.2v-3.6M211.19,1.2v3.6M233.30,263.2v-3.6M233.30,1.2v3.6M248.99,263.2v-3.6M248.99,1.2v3.6M261.16,263.2v-3.6M261.16,1.2v3.6M271.10,263.2v-3.6M271.10,1.2v3.6M279.50,263.2v-3.6M279.50,1.2v3.6M286.78,263.2v-3.6M286.78,1.2v3.6M293.21,263.2v-3.6M293.21,1.2v3.6M298.95,263.2v-7.2M298.95,1.2v7.2M336.74,263.2v-3.6M336.74,1.2v3.6M358.85,263.2v-3.6M358.85,1.2v3.6M374.54,263.2v-3.6M374.54,1.2v3.6M386.71,263.2v-3.6M386.71,1.2v3.6M396.65,263.2v-3.6M396.65,1.2v3.6M405.05,263.2v-3.6M405.05,1.2v3.6M412.33,263.2v-3.6M412.33,1.2v3.6M418.76,263.2v-3.6M418.76,1.2v3.6M50.85,262.90h7.2M50.85,236.97h3.6M424.65,236.97h-3.6M50.85,210.74h7.2M424.65,210.74h-7.2M50.85,184.51h3.6M424.65,184.51h-3.6M50.85,158.28h7.2M424.65,158.28h-7.2M50.85,132.05h3.6M424.65,132.05h-3.6M50.85,105.82h7.2M424.65,105.82h-7.2M50.85,79.59h3.6M424.65,79.59h-3.6M50.85,53.36h7.2M424.65,53.36h-7.2M50.85,27.13h3.6M424.65,27.13h-3.6" stroke="#000000" stroke-width="1.0" fill="none"/>
</g>
<g>
<text x="47.8" y="267.9" font-size="16.3" text-anchor="end">0</text>
<text x="47.8" y="215.8" font-size="16.3" text-anchor="end">0.2</text>
<text x="47.8" y="163.4" font-size="16.3" text-anchor="end">0.4</text>
<text x="47.8" y="110.9" font-size="16.3" text-anchor="end">0.6</text>
<text x="47.8" y="58.5" font-size="16.3" text-anchor="end">0.8</text>
<text x="163.4" y="284.4" font-size="16.3" letter-spacing="-0.25">10<tspan font-size="11.6" dy="-10.1" dx="-0.2">0</tspan></text>
<text x="288.9" y="284.4" font-size="16.3" letter-spacing="-0.25">10<tspan font-size="11.6" dy="-10.1" dx="-0.2">1</tspan></text>
<text x="414.5" y="284.4" font-size="16.3" letter-spacing="-0.25">10<tspan font-size="11.6" dy="-10.1" dx="-0.2">2</tspan></text>
</g>
<text x="216.9" y="302.0" font-size="20.9" letter-spacing="0.1">t (ps)</text>
<text transform="translate(16.4,154.0) rotate(-90)" font-size="20.8">C<tspan font-size="14.6" dy="7.4">d</tspan><tspan dy="-7.4" dx="0.5" letter-spacing="0.9">(t)</tspan></text>
<text x="63.0" y="22.7" font-size="20.8" letter-spacing="0.2">(b)</text>
<rect x="312.3" y="19.4" width="87.2" height="141.6" fill="#ffffff" stroke="#303030" stroke-width="0.9"/>
<g><line x1="320.6" y1="30.40" x2="335.8" y2="30.40" stroke="#000000" stroke-width="0.9"/><path transform="translate(320.6,30.40)" d="M-3.60,0a3.60,3.60 0 1,0 7.21,0a3.60,3.60 0 1,0 -7.21,0z" fill="none" stroke="#000000" stroke-width="0.9"/><path transform="translate(335.8,30.40)" d="M-3.60,0a3.60,3.60 0 1,0 7.21,0a3.60,3.60 0 1,0 -7.21,0z" fill="none" stroke="#000000" stroke-width="0.9"/><text x="343.7" y="33.90" font-size="15.6">Q=-0.02</text></g>
<g><line x1="320.6" y1="47.60" x2="335.8" y2="47.60" stroke="#ff0000" stroke-width="0.9"/><path transform="translate(320.6,47.60)" d="M-3.08,-3.08h6.16v6.16h-6.16z" fill="none" stroke="#ff0000" stroke-width="0.9"/><path transform="translate(335.8,47.60)" d="M-3.08,-3.08h6.16v6.16h-6.16z" fill="none" stroke="#ff0000" stroke-width="0.9"/><text x="343.7" y="51.10" font-size="15.6">Q=-0.04</text></g>
<g><line x1="320.6" y1="64.80" x2="335.8" y2="64.80" stroke="#00ff00" stroke-width="0.9"/><path transform="translate(320.6,64.80)" d="M0,-3.50L3.50,0L0,3.50L-3.50,0z" fill="none" stroke="#00ff00" stroke-width="0.9"/><path transform="translate(335.8,64.80)" d="M0,-3.50L3.50,0L0,3.50L-3.50,0z" fill="none" stroke="#00ff00" stroke-width="0.9"/><text x="343.7" y="68.30" font-size="15.6">Q=-0.06</text></g>
<g><line x1="320.6" y1="82.00" x2="335.8" y2="82.00" stroke="#0000ff" stroke-width="0.9"/><path transform="translate(320.6,82.00)" d="M0,-4.04L3.50,2.02L-3.50,2.02z" fill="none" stroke="#0000ff" stroke-width="0.9"/><path transform="translate(335.8,82.00)" d="M0,-4.04L3.50,2.02L-3.50,2.02z" fill="none" stroke="#0000ff" stroke-width="0.9"/><text x="343.7" y="85.50" font-size="15.6">Q=-0.08</text></g>
<g><line x1="320.6" y1="99.20" x2="335.8" y2="99.20" stroke="#ffa500" stroke-width="0.9"/><path transform="translate(320.6,99.20)" d="M-4.04,0L2.02,3.50L2.02,-3.50z" fill="none" stroke="#ffa500" stroke-width="0.9"/><path transform="translate(335.8,99.20)" d="M-4.04,0L2.02,3.50L2.02,-3.50z" fill="none" stroke="#ffa500" stroke-width="0.9"/><text x="343.7" y="102.70" font-size="15.6">Q=-0.10</text></g>
<g><line x1="320.6" y1="116.40" x2="335.8" y2="116.40" stroke="#bc8f8f" stroke-width="0.9"/><path transform="translate(320.6,116.40)" d="M0,4.04L3.50,-2.02L-3.50,-2.02z" fill="none" stroke="#bc8f8f" stroke-width="0.9"/><path transform="translate(335.8,116.40)" d="M0,4.04L3.50,-2.02L-3.50,-2.02z" fill="none" stroke="#bc8f8f" stroke-width="0.9"/><text x="343.7" y="119.90" font-size="15.6">Q=-0.12</text></g>
<g><line x1="320.6" y1="133.60" x2="335.8" y2="133.60" stroke="#dcdcdc" stroke-width="0.9"/><path transform="translate(320.6,133.60)" d="M4.04,0L-2.02,3.50L-2.02,-3.50z" fill="none" stroke="#dcdcdc" stroke-width="0.9"/><path transform="translate(335.8,133.60)" d="M4.04,0L-2.02,3.50L-2.02,-3.50z" fill="none" stroke="#dcdcdc" stroke-width="0.9"/><text x="343.7" y="137.10" font-size="15.6">Q=-0.15</text></g>
<g><line x1="320.6" y1="150.80" x2="335.8" y2="150.80" stroke="#9400d3" stroke-width="0.9"/><path transform="translate(320.6,150.80)" d="M-3.85,0h7.70M0,-3.85v7.70" fill="none" stroke="#9400d3" stroke-width="0.9"/><path transform="translate(335.8,150.80)" d="M-3.85,0h7.70M0,-3.85v7.70" fill="none" stroke="#9400d3" stroke-width="0.9"/><text x="343.7" y="154.30" font-size="15.6">Q=-0.20</text></g>
</svg>
</body></html>
